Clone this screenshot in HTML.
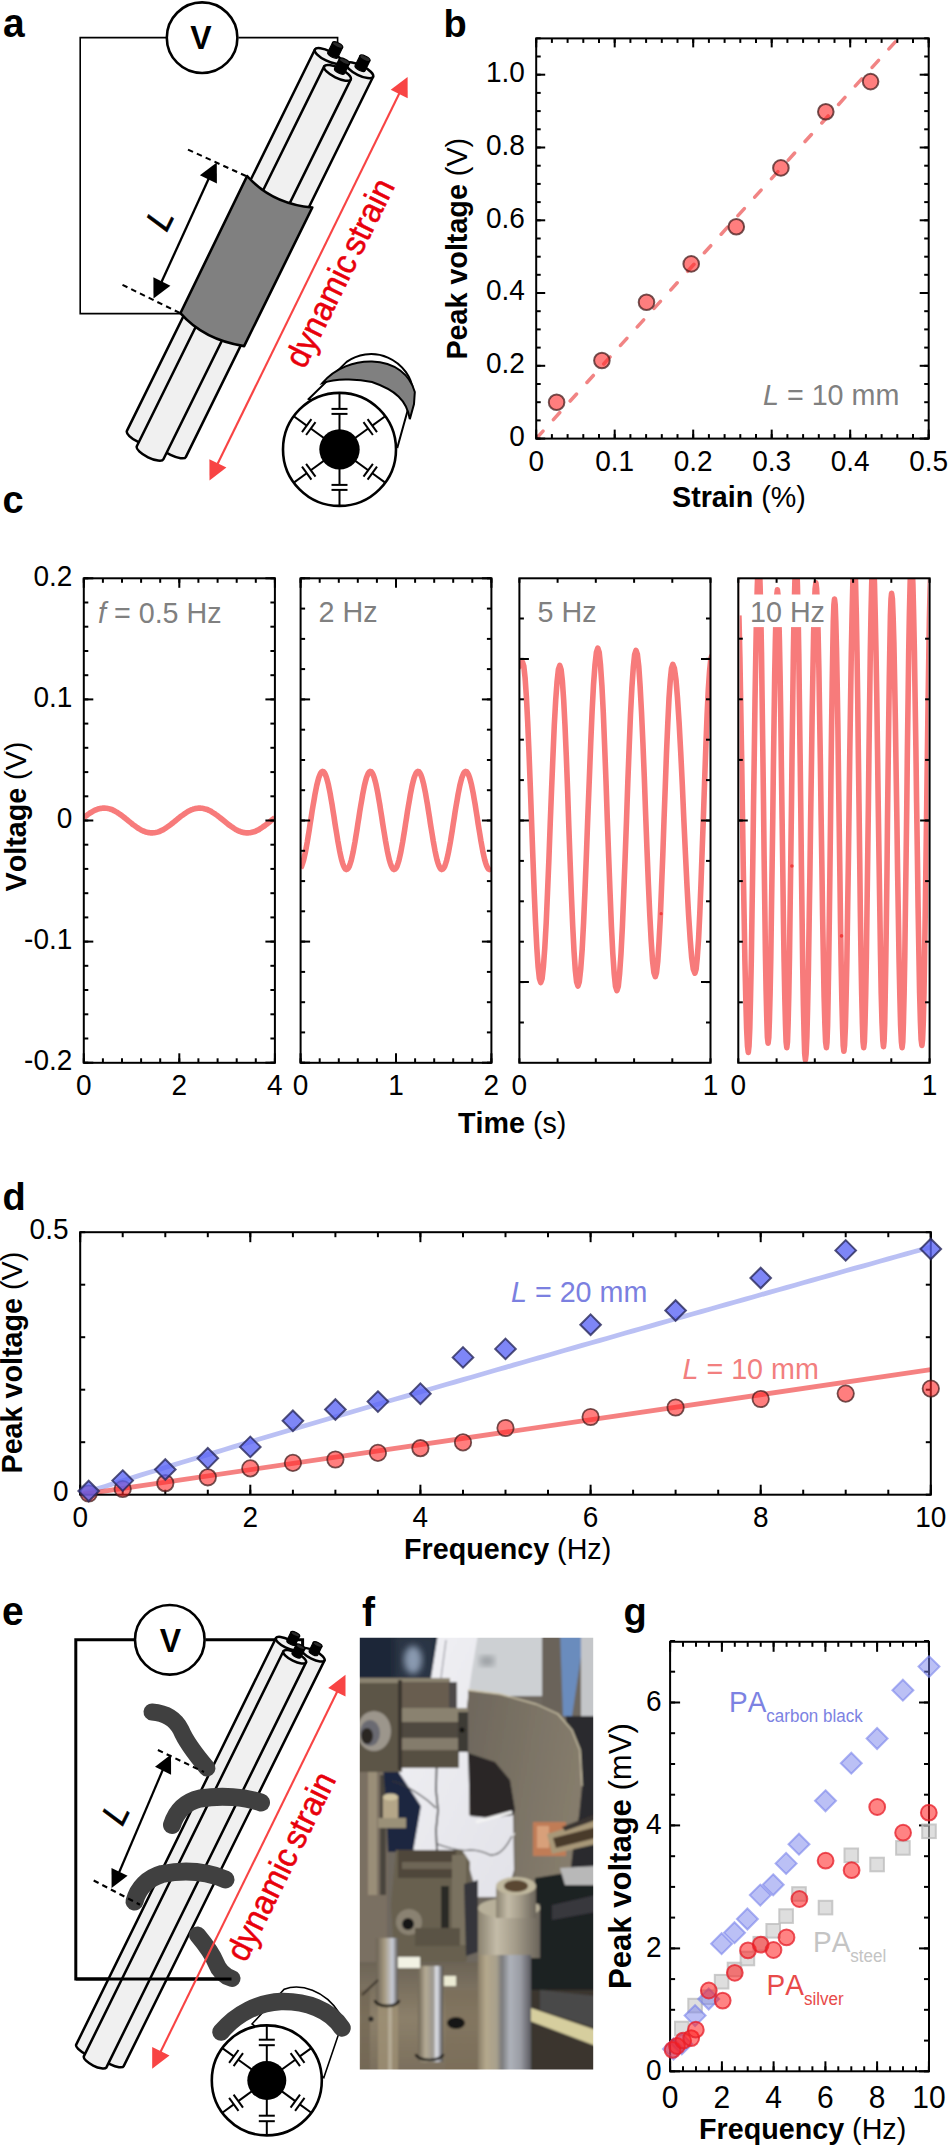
<!DOCTYPE html><html><head><meta charset="utf-8"><style>html,body{margin:0;padding:0;background:#fff;}svg{display:block;}</style></head><body>
<svg width="950" height="2146" viewBox="0 0 950 2146" font-family='"Liberation Sans", sans-serif' style="font-kerning:none">
<rect width="950" height="2146" fill="#fff"/>
<path d="M166.5,37.6 H80.2 V313.6 H181" fill="none" stroke="#000" stroke-width="1.6"/>
<path d="M238.5,37.6 H337.6 V46" fill="none" stroke="#000" stroke-width="1.6"/>
<path d="M314.9,49.5 L126.9,430.9 A14.8,5.0 26.26 0 0 153.5,443.9 L341.5,62.5 Z" fill="#f0f0f0" stroke="#000" stroke-width="2.5" stroke-linejoin="round"/>
<ellipse cx="328.2" cy="56.0" rx="14.8" ry="5.0" transform="rotate(26.26 328.2 56.0)" fill="#f0f0f0" stroke="#000" stroke-width="2.5"/>
<path d="M346.5,63.8 L159.3,443.9 A14.8,5.0 26.26 0 0 185.9,456.9 L373.1,76.8 Z" fill="#f0f0f0" stroke="#000" stroke-width="2.5" stroke-linejoin="round"/>
<ellipse cx="359.8" cy="70.3" rx="14.8" ry="5.0" transform="rotate(26.26 359.8 70.3)" fill="#f0f0f0" stroke="#000" stroke-width="2.5"/>
<path d="M324.2,66.4 L136.8,446.3 A14.8,5.0 26.26 0 0 163.4,459.3 L350.8,79.4 Z" fill="#f0f0f0" stroke="#000" stroke-width="2.5" stroke-linejoin="round"/>
<ellipse cx="337.5" cy="72.9" rx="14.8" ry="5.0" transform="rotate(26.26 337.5 72.9)" fill="#f0f0f0" stroke="#000" stroke-width="2.5"/>
<path d="M327.7,52.4 A5.6,2.2399999999999998 26.26 0 0 337.8,57.4 L342.6,47.5 L332.6,42.6 Z" fill="#000" stroke="#000" stroke-width="1.2"/>
<ellipse cx="337.6" cy="45.0" rx="5.6" ry="2.2" transform="rotate(26.26 337.6 45.0)" fill="#2a2a2a" stroke="#000" stroke-width="1.2"/>
<path d="M355.0,65.7 A5.6,2.2399999999999998 26.26 0 0 365.1,70.7 L369.9,60.8 L359.9,55.9 Z" fill="#000" stroke="#000" stroke-width="1.2"/>
<ellipse cx="364.9" cy="58.3" rx="5.6" ry="2.2" transform="rotate(26.26 364.9 58.3)" fill="#2a2a2a" stroke="#000" stroke-width="1.2"/>
<path d="M334.5,68.6 A5.6,2.2399999999999998 26.26 0 0 344.5,73.6 L349.4,63.7 L339.3,58.8 Z" fill="#000" stroke="#000" stroke-width="1.2"/>
<ellipse cx="344.4" cy="61.2" rx="5.6" ry="2.2" transform="rotate(26.26 344.4 61.2)" fill="#2a2a2a" stroke="#000" stroke-width="1.2"/>
<path d="M247.1,176 Q272,204 312.3,207.5 L244.1,346.1 Q204,340 180.4,313.2 Z" fill="#808080" stroke="#000" stroke-width="2.6" stroke-linejoin="round"/>
<line x1="188" y1="149.6" x2="247.1" y2="176.5" stroke="#000" stroke-width="2.1" stroke-dasharray="5.5,4.2"/>
<line x1="122.5" y1="284.9" x2="180.4" y2="313.2" stroke="#000" stroke-width="2.1" stroke-dasharray="5.5,4.2"/>
<line x1="209" y1="178" x2="161.5" y2="282" stroke="#000" stroke-width="2.3"/>
<path d="M216.8,162.4 L216.9,183.6 L199.9,175.2 Z" fill="#000"/>
<path d="M153.5,298.5 L153.4,277.3 L170.4,285.7 Z" fill="#000"/>
<text transform="translate(166.5,233) rotate(-63.7) scale(1,1.04)" font-size="34" font-style="italic" stroke="#000" stroke-width="0.6">L</text>
<line x1="400" y1="92" x2="217" y2="465" stroke="#f84444" stroke-width="2.1"/>
<path d="M407.6,77.0 L407.7,98.2 L390.7,89.8 Z" fill="#f84444"/>
<path d="M209.5,480.4 L209.4,459.2 L226.4,467.6 Z" fill="#f84444"/>
<text transform="translate(304.5,370) rotate(-63.7) scale(1,1.04)" font-size="32.5" fill="#e8000b" stroke="#e8000b" stroke-width="0.5">dynamic<tspan dx="-4"> strain</tspan></text>
<circle cx="202.1" cy="37.7" r="35.3" fill="#fff" stroke="#000" stroke-width="2.6"/>
<text transform="translate(201,49.3) scale(1,1.04)" font-size="32" font-weight="bold" text-anchor="middle">V</text>
<path d="M308.7,399 L346.6,361.9 A42.5,42.5 0 0 1 413.2,390.5 L397.5,447 Z" fill="#fff" stroke="#000" stroke-width="2"/>
<path d="M322.5,383 C335,368 355,361 372,361.5 C395,362 410,375 414.8,392 L414,404 L409.8,419.2 C407,400 395,390 372,382 C355,378 335,379 322.5,383 Z" fill="#808080" stroke="#000" stroke-width="2"/>
<circle cx="339.5" cy="449.4" r="56.5" fill="#fff" stroke="#000" stroke-width="2.6"/>
<line x1="339.5" y1="449.4" x2="339.5" y2="413.9" stroke="#000" stroke-width="2"/>
<line x1="339.5" y1="408.9" x2="339.5" y2="392.9" stroke="#000" stroke-width="2"/>
<line x1="347.5" y1="413.9" x2="331.5" y2="413.9" stroke="#000" stroke-width="2"/>
<line x1="347.5" y1="408.9" x2="331.5" y2="408.9" stroke="#000" stroke-width="2"/>
<line x1="339.5" y1="449.4" x2="368.2" y2="428.5" stroke="#000" stroke-width="2"/>
<line x1="372.3" y1="425.6" x2="385.2" y2="416.2" stroke="#000" stroke-width="2"/>
<line x1="372.9" y1="435.0" x2="363.5" y2="422.1" stroke="#000" stroke-width="2"/>
<line x1="377.0" y1="432.1" x2="367.6" y2="419.1" stroke="#000" stroke-width="2"/>
<line x1="339.5" y1="449.4" x2="368.2" y2="470.3" stroke="#000" stroke-width="2"/>
<line x1="372.3" y1="473.2" x2="385.2" y2="482.6" stroke="#000" stroke-width="2"/>
<line x1="363.5" y1="476.7" x2="372.9" y2="463.8" stroke="#000" stroke-width="2"/>
<line x1="367.6" y1="479.7" x2="377.0" y2="466.7" stroke="#000" stroke-width="2"/>
<line x1="339.5" y1="449.4" x2="339.5" y2="484.9" stroke="#000" stroke-width="2"/>
<line x1="339.5" y1="489.9" x2="339.5" y2="505.9" stroke="#000" stroke-width="2"/>
<line x1="331.5" y1="484.9" x2="347.5" y2="484.9" stroke="#000" stroke-width="2"/>
<line x1="331.5" y1="489.9" x2="347.5" y2="489.9" stroke="#000" stroke-width="2"/>
<line x1="339.5" y1="449.4" x2="310.8" y2="470.3" stroke="#000" stroke-width="2"/>
<line x1="306.7" y1="473.2" x2="293.8" y2="482.6" stroke="#000" stroke-width="2"/>
<line x1="306.1" y1="463.8" x2="315.5" y2="476.7" stroke="#000" stroke-width="2"/>
<line x1="302.0" y1="466.7" x2="311.4" y2="479.7" stroke="#000" stroke-width="2"/>
<line x1="339.5" y1="449.4" x2="310.8" y2="428.5" stroke="#000" stroke-width="2"/>
<line x1="306.7" y1="425.6" x2="293.8" y2="416.2" stroke="#000" stroke-width="2"/>
<line x1="315.5" y1="422.1" x2="306.1" y2="435.0" stroke="#000" stroke-width="2"/>
<line x1="311.4" y1="419.1" x2="302.0" y2="432.1" stroke="#000" stroke-width="2"/>
<circle cx="339.5" cy="449.4" r="20.2" fill="#000"/>
<text transform="translate(3,36.5) scale(1,1.04)" font-size="39" font-weight="bold">a</text>
<clipPath id="cb"><rect x="536.2" y="38.4" width="392.5" height="400.20000000000005"/></clipPath>
<line x1="536.2" y1="438.6" x2="898.4" y2="38.4" stroke="rgba(236,84,84,0.72)" stroke-width="3.5" stroke-linecap="round" stroke-dasharray="9.5,15.5" stroke-dashoffset="24.35" clip-path="url(#cb)"/>
<circle cx="556.6" cy="402.2" r="7.8" fill="rgba(255,40,40,0.6)" stroke="rgba(70,30,30,0.75)" stroke-width="2"/>
<circle cx="601.9" cy="360.5" r="7.8" fill="rgba(255,40,40,0.6)" stroke="rgba(70,30,30,0.75)" stroke-width="2"/>
<circle cx="646.5" cy="302.2" r="7.8" fill="rgba(255,40,40,0.6)" stroke="rgba(70,30,30,0.75)" stroke-width="2"/>
<circle cx="691.2" cy="263.9" r="7.8" fill="rgba(255,40,40,0.6)" stroke="rgba(70,30,30,0.75)" stroke-width="2"/>
<circle cx="736.3" cy="226.8" r="7.8" fill="rgba(255,40,40,0.6)" stroke="rgba(70,30,30,0.75)" stroke-width="2"/>
<circle cx="780.9" cy="167.9" r="7.8" fill="rgba(255,40,40,0.6)" stroke="rgba(70,30,30,0.75)" stroke-width="2"/>
<circle cx="825.8" cy="111.7" r="7.8" fill="rgba(255,40,40,0.6)" stroke="rgba(70,30,30,0.75)" stroke-width="2"/>
<circle cx="870.6" cy="81.6" r="7.8" fill="rgba(255,40,40,0.6)" stroke="rgba(70,30,30,0.75)" stroke-width="2"/>
<rect x="536.2" y="38.4" width="392.5" height="400.2" fill="none" stroke="#000" stroke-width="2"/>
<line x1="536.2" y1="438.6" x2="536.2" y2="429.6" stroke="#000" stroke-width="2" />
<line x1="536.2" y1="38.4" x2="536.2" y2="47.4" stroke="#000" stroke-width="2" />
<line x1="614.7" y1="438.6" x2="614.7" y2="429.6" stroke="#000" stroke-width="2" />
<line x1="614.7" y1="38.4" x2="614.7" y2="47.4" stroke="#000" stroke-width="2" />
<line x1="693.2" y1="438.6" x2="693.2" y2="429.6" stroke="#000" stroke-width="2" />
<line x1="693.2" y1="38.4" x2="693.2" y2="47.4" stroke="#000" stroke-width="2" />
<line x1="771.7" y1="438.6" x2="771.7" y2="429.6" stroke="#000" stroke-width="2" />
<line x1="771.7" y1="38.4" x2="771.7" y2="47.4" stroke="#000" stroke-width="2" />
<line x1="850.2" y1="438.6" x2="850.2" y2="429.6" stroke="#000" stroke-width="2" />
<line x1="850.2" y1="38.4" x2="850.2" y2="47.4" stroke="#000" stroke-width="2" />
<line x1="928.7" y1="438.6" x2="928.7" y2="429.6" stroke="#000" stroke-width="2" />
<line x1="928.7" y1="38.4" x2="928.7" y2="47.4" stroke="#000" stroke-width="2" />
<line x1="536.2" y1="438.6" x2="536.2" y2="434.1" stroke="#000" stroke-width="2" />
<line x1="536.2" y1="38.4" x2="536.2" y2="42.9" stroke="#000" stroke-width="2" />
<line x1="551.9" y1="438.6" x2="551.9" y2="434.1" stroke="#000" stroke-width="2" />
<line x1="551.9" y1="38.4" x2="551.9" y2="42.9" stroke="#000" stroke-width="2" />
<line x1="567.6" y1="438.6" x2="567.6" y2="434.1" stroke="#000" stroke-width="2" />
<line x1="567.6" y1="38.4" x2="567.6" y2="42.9" stroke="#000" stroke-width="2" />
<line x1="583.3" y1="438.6" x2="583.3" y2="434.1" stroke="#000" stroke-width="2" />
<line x1="583.3" y1="38.4" x2="583.3" y2="42.9" stroke="#000" stroke-width="2" />
<line x1="599" y1="438.6" x2="599" y2="434.1" stroke="#000" stroke-width="2" />
<line x1="599" y1="38.4" x2="599" y2="42.9" stroke="#000" stroke-width="2" />
<line x1="614.7" y1="438.6" x2="614.7" y2="434.1" stroke="#000" stroke-width="2" />
<line x1="614.7" y1="38.4" x2="614.7" y2="42.9" stroke="#000" stroke-width="2" />
<line x1="630.4" y1="438.6" x2="630.4" y2="434.1" stroke="#000" stroke-width="2" />
<line x1="630.4" y1="38.4" x2="630.4" y2="42.9" stroke="#000" stroke-width="2" />
<line x1="646.1" y1="438.6" x2="646.1" y2="434.1" stroke="#000" stroke-width="2" />
<line x1="646.1" y1="38.4" x2="646.1" y2="42.9" stroke="#000" stroke-width="2" />
<line x1="661.8" y1="438.6" x2="661.8" y2="434.1" stroke="#000" stroke-width="2" />
<line x1="661.8" y1="38.4" x2="661.8" y2="42.9" stroke="#000" stroke-width="2" />
<line x1="677.5" y1="438.6" x2="677.5" y2="434.1" stroke="#000" stroke-width="2" />
<line x1="677.5" y1="38.4" x2="677.5" y2="42.9" stroke="#000" stroke-width="2" />
<line x1="693.2" y1="438.6" x2="693.2" y2="434.1" stroke="#000" stroke-width="2" />
<line x1="693.2" y1="38.4" x2="693.2" y2="42.9" stroke="#000" stroke-width="2" />
<line x1="708.9" y1="438.6" x2="708.9" y2="434.1" stroke="#000" stroke-width="2" />
<line x1="708.9" y1="38.4" x2="708.9" y2="42.9" stroke="#000" stroke-width="2" />
<line x1="724.6" y1="438.6" x2="724.6" y2="434.1" stroke="#000" stroke-width="2" />
<line x1="724.6" y1="38.4" x2="724.6" y2="42.9" stroke="#000" stroke-width="2" />
<line x1="740.3" y1="438.6" x2="740.3" y2="434.1" stroke="#000" stroke-width="2" />
<line x1="740.3" y1="38.4" x2="740.3" y2="42.9" stroke="#000" stroke-width="2" />
<line x1="756" y1="438.6" x2="756" y2="434.1" stroke="#000" stroke-width="2" />
<line x1="756" y1="38.4" x2="756" y2="42.9" stroke="#000" stroke-width="2" />
<line x1="771.7" y1="438.6" x2="771.7" y2="434.1" stroke="#000" stroke-width="2" />
<line x1="771.7" y1="38.4" x2="771.7" y2="42.9" stroke="#000" stroke-width="2" />
<line x1="787.4" y1="438.6" x2="787.4" y2="434.1" stroke="#000" stroke-width="2" />
<line x1="787.4" y1="38.4" x2="787.4" y2="42.9" stroke="#000" stroke-width="2" />
<line x1="803.1" y1="438.6" x2="803.1" y2="434.1" stroke="#000" stroke-width="2" />
<line x1="803.1" y1="38.4" x2="803.1" y2="42.9" stroke="#000" stroke-width="2" />
<line x1="818.8" y1="438.6" x2="818.8" y2="434.1" stroke="#000" stroke-width="2" />
<line x1="818.8" y1="38.4" x2="818.8" y2="42.9" stroke="#000" stroke-width="2" />
<line x1="834.5" y1="438.6" x2="834.5" y2="434.1" stroke="#000" stroke-width="2" />
<line x1="834.5" y1="38.4" x2="834.5" y2="42.9" stroke="#000" stroke-width="2" />
<line x1="850.2" y1="438.6" x2="850.2" y2="434.1" stroke="#000" stroke-width="2" />
<line x1="850.2" y1="38.4" x2="850.2" y2="42.9" stroke="#000" stroke-width="2" />
<line x1="865.9" y1="438.6" x2="865.9" y2="434.1" stroke="#000" stroke-width="2" />
<line x1="865.9" y1="38.4" x2="865.9" y2="42.9" stroke="#000" stroke-width="2" />
<line x1="881.6" y1="438.6" x2="881.6" y2="434.1" stroke="#000" stroke-width="2" />
<line x1="881.6" y1="38.4" x2="881.6" y2="42.9" stroke="#000" stroke-width="2" />
<line x1="897.3" y1="438.6" x2="897.3" y2="434.1" stroke="#000" stroke-width="2" />
<line x1="897.3" y1="38.4" x2="897.3" y2="42.9" stroke="#000" stroke-width="2" />
<line x1="913" y1="438.6" x2="913" y2="434.1" stroke="#000" stroke-width="2" />
<line x1="913" y1="38.4" x2="913" y2="42.9" stroke="#000" stroke-width="2" />
<line x1="928.7" y1="438.6" x2="928.7" y2="434.1" stroke="#000" stroke-width="2" />
<line x1="928.7" y1="38.4" x2="928.7" y2="42.9" stroke="#000" stroke-width="2" />
<line x1="536.2" y1="438.6" x2="545.2" y2="438.6" stroke="#000" stroke-width="2" />
<line x1="928.7" y1="438.6" x2="919.7" y2="438.6" stroke="#000" stroke-width="2" />
<line x1="536.2" y1="365.8" x2="545.2" y2="365.8" stroke="#000" stroke-width="2" />
<line x1="928.7" y1="365.8" x2="919.7" y2="365.8" stroke="#000" stroke-width="2" />
<line x1="536.2" y1="293" x2="545.2" y2="293" stroke="#000" stroke-width="2" />
<line x1="928.7" y1="293" x2="919.7" y2="293" stroke="#000" stroke-width="2" />
<line x1="536.2" y1="220.3" x2="545.2" y2="220.3" stroke="#000" stroke-width="2" />
<line x1="928.7" y1="220.3" x2="919.7" y2="220.3" stroke="#000" stroke-width="2" />
<line x1="536.2" y1="147.5" x2="545.2" y2="147.5" stroke="#000" stroke-width="2" />
<line x1="928.7" y1="147.5" x2="919.7" y2="147.5" stroke="#000" stroke-width="2" />
<line x1="536.2" y1="74.7" x2="545.2" y2="74.7" stroke="#000" stroke-width="2" />
<line x1="928.7" y1="74.7" x2="919.7" y2="74.7" stroke="#000" stroke-width="2" />
<line x1="536.2" y1="438.6" x2="540.7" y2="438.6" stroke="#000" stroke-width="2" />
<line x1="928.7" y1="438.6" x2="924.2" y2="438.6" stroke="#000" stroke-width="2" />
<line x1="536.2" y1="420.4" x2="540.7" y2="420.4" stroke="#000" stroke-width="2" />
<line x1="928.7" y1="420.4" x2="924.2" y2="420.4" stroke="#000" stroke-width="2" />
<line x1="536.2" y1="402.2" x2="540.7" y2="402.2" stroke="#000" stroke-width="2" />
<line x1="928.7" y1="402.2" x2="924.2" y2="402.2" stroke="#000" stroke-width="2" />
<line x1="536.2" y1="384" x2="540.7" y2="384" stroke="#000" stroke-width="2" />
<line x1="928.7" y1="384" x2="924.2" y2="384" stroke="#000" stroke-width="2" />
<line x1="536.2" y1="365.8" x2="540.7" y2="365.8" stroke="#000" stroke-width="2" />
<line x1="928.7" y1="365.8" x2="924.2" y2="365.8" stroke="#000" stroke-width="2" />
<line x1="536.2" y1="347.6" x2="540.7" y2="347.6" stroke="#000" stroke-width="2" />
<line x1="928.7" y1="347.6" x2="924.2" y2="347.6" stroke="#000" stroke-width="2" />
<line x1="536.2" y1="329.4" x2="540.7" y2="329.4" stroke="#000" stroke-width="2" />
<line x1="928.7" y1="329.4" x2="924.2" y2="329.4" stroke="#000" stroke-width="2" />
<line x1="536.2" y1="311.2" x2="540.7" y2="311.2" stroke="#000" stroke-width="2" />
<line x1="928.7" y1="311.2" x2="924.2" y2="311.2" stroke="#000" stroke-width="2" />
<line x1="536.2" y1="293" x2="540.7" y2="293" stroke="#000" stroke-width="2" />
<line x1="928.7" y1="293" x2="924.2" y2="293" stroke="#000" stroke-width="2" />
<line x1="536.2" y1="274.8" x2="540.7" y2="274.8" stroke="#000" stroke-width="2" />
<line x1="928.7" y1="274.8" x2="924.2" y2="274.8" stroke="#000" stroke-width="2" />
<line x1="536.2" y1="256.7" x2="540.7" y2="256.7" stroke="#000" stroke-width="2" />
<line x1="928.7" y1="256.7" x2="924.2" y2="256.7" stroke="#000" stroke-width="2" />
<line x1="536.2" y1="238.5" x2="540.7" y2="238.5" stroke="#000" stroke-width="2" />
<line x1="928.7" y1="238.5" x2="924.2" y2="238.5" stroke="#000" stroke-width="2" />
<line x1="536.2" y1="220.3" x2="540.7" y2="220.3" stroke="#000" stroke-width="2" />
<line x1="928.7" y1="220.3" x2="924.2" y2="220.3" stroke="#000" stroke-width="2" />
<line x1="536.2" y1="202.1" x2="540.7" y2="202.1" stroke="#000" stroke-width="2" />
<line x1="928.7" y1="202.1" x2="924.2" y2="202.1" stroke="#000" stroke-width="2" />
<line x1="536.2" y1="183.9" x2="540.7" y2="183.9" stroke="#000" stroke-width="2" />
<line x1="928.7" y1="183.9" x2="924.2" y2="183.9" stroke="#000" stroke-width="2" />
<line x1="536.2" y1="165.7" x2="540.7" y2="165.7" stroke="#000" stroke-width="2" />
<line x1="928.7" y1="165.7" x2="924.2" y2="165.7" stroke="#000" stroke-width="2" />
<line x1="536.2" y1="147.5" x2="540.7" y2="147.5" stroke="#000" stroke-width="2" />
<line x1="928.7" y1="147.5" x2="924.2" y2="147.5" stroke="#000" stroke-width="2" />
<line x1="536.2" y1="129.3" x2="540.7" y2="129.3" stroke="#000" stroke-width="2" />
<line x1="928.7" y1="129.3" x2="924.2" y2="129.3" stroke="#000" stroke-width="2" />
<line x1="536.2" y1="111.1" x2="540.7" y2="111.1" stroke="#000" stroke-width="2" />
<line x1="928.7" y1="111.1" x2="924.2" y2="111.1" stroke="#000" stroke-width="2" />
<line x1="536.2" y1="92.9" x2="540.7" y2="92.9" stroke="#000" stroke-width="2" />
<line x1="928.7" y1="92.9" x2="924.2" y2="92.9" stroke="#000" stroke-width="2" />
<line x1="536.2" y1="74.7" x2="540.7" y2="74.7" stroke="#000" stroke-width="2" />
<line x1="928.7" y1="74.7" x2="924.2" y2="74.7" stroke="#000" stroke-width="2" />
<line x1="536.2" y1="56.5" x2="540.7" y2="56.5" stroke="#000" stroke-width="2" />
<line x1="928.7" y1="56.5" x2="924.2" y2="56.5" stroke="#000" stroke-width="2" />
<line x1="536.2" y1="38.3" x2="540.7" y2="38.3" stroke="#000" stroke-width="2" />
<line x1="928.7" y1="38.3" x2="924.2" y2="38.3" stroke="#000" stroke-width="2" />
<text transform="translate(536.2,471.3) scale(1,1.04)" font-size="28" text-anchor="middle" font-weight="normal" fill="#000" >0</text>
<text transform="translate(614.7,471.3) scale(1,1.04)" font-size="28" text-anchor="middle" font-weight="normal" fill="#000" >0.1</text>
<text transform="translate(693.2,471.3) scale(1,1.04)" font-size="28" text-anchor="middle" font-weight="normal" fill="#000" >0.2</text>
<text transform="translate(771.7,471.3) scale(1,1.04)" font-size="28" text-anchor="middle" font-weight="normal" fill="#000" >0.3</text>
<text transform="translate(850.2,471.3) scale(1,1.04)" font-size="28" text-anchor="middle" font-weight="normal" fill="#000" >0.4</text>
<text transform="translate(928.7,471.3) scale(1,1.04)" font-size="28" text-anchor="middle" font-weight="normal" fill="#000" >0.5</text>
<text transform="translate(524.8,445.9) scale(1,1.04)" font-size="28" text-anchor="end" font-weight="normal" fill="#000" >0</text>
<text transform="translate(524.8,373.1) scale(1,1.04)" font-size="28" text-anchor="end" font-weight="normal" fill="#000" >0.2</text>
<text transform="translate(524.8,300.3) scale(1,1.04)" font-size="28" text-anchor="end" font-weight="normal" fill="#000" >0.4</text>
<text transform="translate(524.8,227.6) scale(1,1.04)" font-size="28" text-anchor="end" font-weight="normal" fill="#000" >0.6</text>
<text transform="translate(524.8,154.8) scale(1,1.04)" font-size="28" text-anchor="end" font-weight="normal" fill="#000" >0.8</text>
<text transform="translate(524.8,82) scale(1,1.04)" font-size="28" text-anchor="end" font-weight="normal" fill="#000" >1.0</text>
<text transform="translate(672,506.5) scale(1.025,1.04)" font-size="28"><tspan font-weight="bold">Strain</tspan> (%)</text>
<text transform="translate(467,359.6) rotate(-90) scale(1.025,1.04)" font-size="28"><tspan font-weight="bold">Peak voltage</tspan> (V)</text>
<text transform="translate(763,405) scale(1.025,1.04)" font-size="28" fill="#808080"><tspan font-style="italic">L</tspan> = 10 mm</text>
<text transform="translate(443.5,36.5) scale(1,1.04)" font-size="38" text-anchor="start" font-weight="bold" fill="#000" >b</text>
<clipPath id="cc0"><rect x="83.8" y="578.3" width="191.1" height="484.5"/></clipPath>
<clipPath id="cc1"><rect x="300.6" y="578.3" width="190.8" height="484.5"/></clipPath>
<clipPath id="cc2"><rect x="519.4" y="578.3" width="191.1" height="484.5"/></clipPath>
<clipPath id="cc3"><rect x="738.3" y="578.3" width="191.3" height="484.5"/></clipPath>
<path d="M83.8,817.6 L84.8,816.9 L85.7,816.1 L86.7,815.4 L87.6,814.7 L88.6,814.0 L89.5,813.4 L90.5,812.7 L91.4,812.2 L92.4,811.6 L93.4,811.1 L94.3,810.6 L95.3,810.1 L96.2,809.7 L97.2,809.4 L98.1,809.0 L99.1,808.8 L100.0,808.5 L101.0,808.4 L102.0,808.2 L102.9,808.1 L103.9,808.1 L104.8,808.1 L105.8,808.2 L106.7,808.3 L107.7,808.4 L108.6,808.6 L109.6,808.9 L110.6,809.2 L111.5,809.5 L112.5,809.9 L113.4,810.4 L114.4,810.8 L115.3,811.3 L116.3,811.9 L117.2,812.4 L118.2,813.1 L119.2,813.7 L120.1,814.4 L121.1,815.0 L122.0,815.8 L123.0,816.5 L123.9,817.2 L124.9,818.0 L125.8,818.8 L126.8,819.5 L127.8,820.3 L128.7,821.1 L129.7,821.9 L130.6,822.6 L131.6,823.4 L132.5,824.2 L133.5,824.9 L134.4,825.6 L135.4,826.3 L136.4,827.0 L137.3,827.6 L138.3,828.3 L139.2,828.8 L140.2,829.4 L141.1,829.9 L142.1,830.4 L143.0,830.9 L144.0,831.3 L145.0,831.6 L145.9,832.0 L146.9,832.2 L147.8,832.5 L148.8,832.6 L149.7,832.8 L150.7,832.9 L151.6,832.9 L152.6,832.9 L153.6,832.8 L154.5,832.7 L155.5,832.6 L156.4,832.4 L157.4,832.1 L158.3,831.8 L159.3,831.5 L160.2,831.1 L161.2,830.6 L162.2,830.2 L163.1,829.7 L164.1,829.1 L165.0,828.5 L166.0,827.9 L166.9,827.3 L167.9,826.6 L168.8,825.9 L169.8,825.2 L170.8,824.5 L171.7,823.8 L172.7,823.0 L173.6,822.2 L174.6,821.5 L175.5,820.7 L176.5,819.9 L177.4,819.1 L178.4,818.4 L179.3,817.6 L180.3,816.8 L181.3,816.1 L182.2,815.4 L183.2,814.7 L184.1,814.0 L185.1,813.4 L186.0,812.7 L187.0,812.1 L187.9,811.6 L188.9,811.1 L189.9,810.6 L190.8,810.1 L191.8,809.7 L192.7,809.4 L193.7,809.0 L194.6,808.8 L195.6,808.5 L196.5,808.4 L197.5,808.2 L198.5,808.1 L199.4,808.1 L200.4,808.1 L201.3,808.2 L202.3,808.3 L203.2,808.4 L204.2,808.7 L205.1,808.9 L206.1,809.2 L207.1,809.5 L208.0,809.9 L209.0,810.4 L209.9,810.8 L210.9,811.3 L211.8,811.9 L212.8,812.5 L213.7,813.1 L214.7,813.7 L215.7,814.4 L216.6,815.1 L217.6,815.8 L218.5,816.5 L219.5,817.2 L220.4,818.0 L221.4,818.8 L222.3,819.5 L223.3,820.3 L224.3,821.1 L225.2,821.9 L226.2,822.6 L227.1,823.4 L228.1,824.2 L229.0,824.9 L230.0,825.6 L230.9,826.3 L231.9,827.0 L232.9,827.6 L233.8,828.3 L234.8,828.9 L235.7,829.4 L236.7,829.9 L237.6,830.4 L238.6,830.9 L239.5,831.3 L240.5,831.6 L241.5,832.0 L242.4,832.2 L243.4,832.5 L244.3,832.6 L245.3,832.8 L246.2,832.9 L247.2,832.9 L248.1,832.9 L249.1,832.8 L250.1,832.7 L251.0,832.6 L252.0,832.3 L252.9,832.1 L253.9,831.8 L254.8,831.5 L255.8,831.1 L256.7,830.6 L257.7,830.2 L258.7,829.7 L259.6,829.1 L260.6,828.5 L261.5,827.9 L262.5,827.3 L263.4,826.6 L264.4,825.9 L265.3,825.2 L266.3,824.5 L267.3,823.8 L268.2,823.0 L269.2,822.2 L270.1,821.5 L271.1,820.7 L272.0,819.9 L273.0,819.1 L273.9,818.4 L274.9,817.6" fill="none" stroke="#f77b7b" stroke-width="5.6" clip-path="url(#cc0)"/>
<path d="M300.6,868.1 L301.6,866.3 L302.5,863.7 L303.5,860.5 L304.4,856.6 L305.4,852.2 L306.3,847.3 L307.3,841.9 L308.2,836.2 L309.2,830.3 L310.1,824.2 L311.1,818.0 L312.0,811.9 L313.0,805.9 L314.0,800.2 L314.9,794.8 L315.9,789.7 L316.8,785.2 L317.8,781.2 L318.7,777.9 L319.7,775.2 L320.6,773.2 L321.6,772.0 L322.5,771.5 L323.5,771.8 L324.5,772.9 L325.4,774.7 L326.4,777.3 L327.3,780.5 L328.3,784.4 L329.2,788.8 L330.2,793.7 L331.1,799.1 L332.1,804.8 L333.0,810.7 L334.0,816.8 L334.9,823.0 L335.9,829.1 L336.9,835.1 L337.8,840.8 L338.8,846.2 L339.7,851.3 L340.7,855.8 L341.6,859.8 L342.6,863.1 L343.5,865.8 L344.5,867.8 L345.4,869.0 L346.4,869.5 L347.3,869.2 L348.3,868.1 L349.3,866.3 L350.2,863.7 L351.2,860.5 L352.1,856.6 L353.1,852.2 L354.0,847.3 L355.0,841.9 L355.9,836.2 L356.9,830.3 L357.8,824.2 L358.8,818.0 L359.7,811.9 L360.7,805.9 L361.7,800.2 L362.6,794.8 L363.6,789.7 L364.5,785.2 L365.5,781.2 L366.4,777.9 L367.4,775.2 L368.3,773.2 L369.3,772.0 L370.2,771.5 L371.2,771.8 L372.1,772.9 L373.1,774.7 L374.1,777.3 L375.0,780.5 L376.0,784.4 L376.9,788.8 L377.9,793.7 L378.8,799.1 L379.8,804.8 L380.7,810.7 L381.7,816.8 L382.6,823.0 L383.6,829.1 L384.6,835.1 L385.5,840.8 L386.5,846.2 L387.4,851.3 L388.4,855.8 L389.3,859.8 L390.3,863.1 L391.2,865.8 L392.2,867.8 L393.1,869.0 L394.1,869.5 L395.0,869.2 L396.0,868.1 L397.0,866.3 L397.9,863.7 L398.9,860.5 L399.8,856.6 L400.8,852.2 L401.7,847.3 L402.7,841.9 L403.6,836.2 L404.6,830.3 L405.5,824.2 L406.5,818.0 L407.4,811.9 L408.4,805.9 L409.4,800.2 L410.3,794.8 L411.3,789.7 L412.2,785.2 L413.2,781.2 L414.1,777.9 L415.1,775.2 L416.0,773.2 L417.0,772.0 L417.9,771.5 L418.9,771.8 L419.8,772.9 L420.8,774.7 L421.8,777.3 L422.7,780.5 L423.7,784.4 L424.6,788.8 L425.6,793.7 L426.5,799.1 L427.5,804.8 L428.4,810.7 L429.4,816.8 L430.3,823.0 L431.3,829.1 L432.3,835.1 L433.2,840.8 L434.2,846.2 L435.1,851.3 L436.1,855.8 L437.0,859.8 L438.0,863.1 L438.9,865.8 L439.9,867.8 L440.8,869.0 L441.8,869.5 L442.7,869.2 L443.7,868.1 L444.7,866.3 L445.6,863.7 L446.6,860.5 L447.5,856.6 L448.5,852.2 L449.4,847.3 L450.4,841.9 L451.3,836.2 L452.3,830.3 L453.2,824.2 L454.2,818.0 L455.1,811.9 L456.1,805.9 L457.1,800.2 L458.0,794.8 L459.0,789.7 L459.9,785.2 L460.9,781.2 L461.8,777.9 L462.8,775.2 L463.7,773.2 L464.7,772.0 L465.6,771.5 L466.6,771.8 L467.5,772.9 L468.5,774.7 L469.5,777.3 L470.4,780.5 L471.4,784.4 L472.3,788.8 L473.3,793.7 L474.2,799.1 L475.2,804.8 L476.1,810.7 L477.1,816.8 L478.0,823.0 L479.0,829.1 L480.0,835.1 L480.9,840.8 L481.9,846.2 L482.8,851.3 L483.8,855.8 L484.7,859.8 L485.7,863.1 L486.6,865.8 L487.6,867.8 L488.5,869.0 L489.5,869.5 L490.4,869.2 L491.4,868.1" fill="none" stroke="#f77b7b" stroke-width="5.6" clip-path="url(#cc1)"/>
<path d="M517.0,668.0 L517.4,667.9 L517.8,667.7 L518.2,667.4 L518.6,666.9 L519.0,666.3 L519.4,665.7 L519.8,665.1 L520.1,664.4 L520.5,663.8 L520.9,663.2 L521.3,662.7 L521.7,662.4 L522.1,662.2 L522.5,662.1 L523.8,666.1 L525.1,678.0 L526.4,697.1 L527.7,722.4 L529.0,752.8 L530.3,786.7 L531.6,822.3 L532.9,857.9 L534.2,891.8 L535.5,922.2 L536.8,947.5 L538.1,966.6 L539.4,978.5 L540.7,982.5 L542.1,978.5 L543.4,966.8 L544.8,947.9 L546.2,922.8 L547.5,892.8 L548.9,859.3 L550.2,824.0 L551.6,788.7 L553.0,755.2 L554.3,725.2 L555.7,700.1 L557.1,681.2 L558.4,669.5 L559.8,665.5 L561.1,669.5 L562.4,681.4 L563.7,700.5 L565.0,725.8 L566.3,756.2 L567.6,790.1 L568.8,825.8 L570.1,861.4 L571.4,895.3 L572.7,925.7 L574.0,951.0 L575.3,970.1 L576.6,982.0 L577.9,986.0 L579.3,981.8 L580.7,969.3 L582.2,949.1 L583.6,922.4 L585.0,890.4 L586.4,854.6 L587.8,817.1 L589.3,779.5 L590.7,743.7 L592.1,711.7 L593.5,685.0 L595.0,664.8 L596.4,652.3 L597.8,648.1 L599.2,652.4 L600.5,665.1 L601.9,685.5 L603.3,712.6 L604.6,745.1 L606.0,781.3 L607.3,819.4 L608.7,857.5 L610.1,893.7 L611.4,926.2 L612.8,953.3 L614.2,973.7 L615.5,986.4 L616.9,990.7 L618.3,986.4 L619.6,973.8 L621.0,953.6 L622.4,926.6 L623.7,894.4 L625.1,858.4 L626.5,820.6 L627.8,782.7 L629.2,746.7 L630.5,714.5 L631.9,687.5 L633.3,667.3 L634.6,654.7 L636.0,650.4 L637.4,654.5 L638.8,666.6 L640.1,686.0 L641.5,711.8 L642.9,742.7 L644.3,777.2 L645.6,813.5 L647.0,849.8 L648.4,884.3 L649.8,915.2 L651.2,941.0 L652.5,960.4 L653.9,972.5 L655.3,976.6 L656.5,972.7 L657.8,961.1 L659.0,942.5 L660.3,917.8 L661.5,888.2 L662.8,855.2 L664.0,820.5 L665.3,785.8 L666.5,752.8 L667.8,723.2 L669.0,698.5 L670.3,679.9 L671.5,668.3 L672.8,664.4 L674.4,668.3 L676.0,679.7 L677.5,698.1 L679.1,722.5 L680.7,751.8 L682.3,784.4 L683.8,818.8 L685.4,853.2 L687.0,885.8 L688.6,915.1 L690.2,939.5 L691.7,957.9 L693.3,969.3 L694.9,973.2 L696.1,969.2 L697.3,957.4 L698.6,938.5 L699.8,913.3 L701.0,883.1 L702.2,849.5 L703.5,814.1 L704.7,778.7 L705.9,745.1 L707.1,714.9 L708.3,689.7 L709.6,670.8 L710.8,659.0 L712.0,655.0" fill="none" stroke="#f77b7b" stroke-width="5.6" stroke-linejoin="round" clip-path="url(#cc2)"/>
<clipPath id="cc3b"><rect x="739.6" y="578.3" width="188.8" height="484.5"/></clipPath>
<path d="M736.5,566.0 L737.3,572.1 L738.2,590.1 L739.0,619.1 L739.9,657.6 L740.7,703.7 L741.6,755.1 L742.4,809.2 L743.2,863.3 L744.1,914.7 L744.9,960.8 L745.8,999.3 L746.6,1028.3 L747.5,1046.3 L748.3,1052.4 L749.0,1046.3 L749.8,1028.1 L750.5,998.9 L751.3,960.1 L752.0,913.6 L752.8,861.8 L753.5,807.2 L754.3,752.6 L755.0,700.8 L755.8,654.3 L756.5,615.5 L757.3,586.3 L758.0,568.1 L758.8,562.0 L759.5,568.0 L760.1,585.8 L760.8,614.5 L761.5,652.6 L762.1,698.2 L762.8,749.0 L763.5,802.5 L764.1,856.1 L764.8,906.9 L765.4,952.5 L766.1,990.6 L766.8,1019.3 L767.4,1037.1 L768.1,1043.1 L768.8,1037.4 L769.4,1020.7 L770.1,993.7 L770.8,957.8 L771.4,914.8 L772.1,866.9 L772.8,816.4 L773.4,766.0 L774.1,718.1 L774.7,675.1 L775.4,639.2 L776.1,612.2 L776.7,595.5 L777.4,589.8 L778.1,595.5 L778.7,612.5 L779.4,639.7 L780.1,676.0 L780.8,719.4 L781.4,767.8 L782.1,818.8 L782.8,869.7 L783.4,918.1 L784.1,961.5 L784.8,997.8 L785.5,1025.0 L786.1,1042.0 L786.8,1047.7 L787.5,1041.6 L788.1,1023.6 L788.8,994.5 L789.5,955.9 L790.1,909.7 L790.8,858.1 L791.5,803.9 L792.1,749.6 L792.8,698.0 L793.4,651.8 L794.1,613.2 L794.8,584.1 L795.4,566.1 L796.1,560.0 L796.8,566.3 L797.4,584.8 L798.1,614.5 L798.8,654.1 L799.4,701.5 L800.1,754.4 L800.8,810.0 L801.4,865.6 L802.1,918.5 L802.7,965.9 L803.4,1005.5 L804.1,1035.2 L804.7,1053.7 L805.4,1060.0 L806.1,1054.0 L806.9,1036.4 L807.6,1007.9 L808.4,970.2 L809.1,924.9 L809.9,874.5 L810.6,821.4 L811.4,768.3 L812.1,717.9 L812.9,672.6 L813.6,634.9 L814.4,606.4 L815.1,588.8 L815.9,582.8 L816.6,588.6 L817.4,605.8 L818.1,633.5 L818.9,670.3 L819.6,714.4 L820.4,763.5 L821.1,815.2 L821.9,867.0 L822.6,916.1 L823.4,960.2 L824.1,997.0 L824.9,1024.7 L825.6,1041.9 L826.4,1047.7 L827.0,1042.1 L827.6,1025.5 L828.1,998.8 L828.7,963.2 L829.3,920.7 L829.9,873.3 L830.5,823.4 L831.0,773.5 L831.6,726.1 L832.2,683.6 L832.8,648.0 L833.3,621.3 L833.9,604.7 L834.5,599.1 L835.2,604.8 L835.8,621.5 L836.5,648.4 L837.2,684.2 L837.9,727.1 L838.5,774.9 L839.2,825.2 L839.9,875.5 L840.5,923.3 L841.2,966.2 L841.9,1002.0 L842.6,1028.9 L843.2,1045.6 L843.9,1051.3 L844.6,1045.1 L845.4,1027.0 L846.1,997.7 L846.9,958.8 L847.6,912.2 L848.4,860.3 L849.1,805.6 L849.8,751.0 L850.6,699.1 L851.3,652.5 L852.1,613.6 L852.8,584.3 L853.6,566.2 L854.3,560.0 L855.0,566.1 L855.6,584.1 L856.3,613.2 L857.0,651.8 L857.7,698.0 L858.3,749.6 L859.0,803.9 L859.7,858.1 L860.3,909.7 L861.0,955.9 L861.7,994.5 L862.4,1023.6 L863.0,1041.6 L863.7,1047.7 L864.4,1041.6 L865.0,1023.6 L865.7,994.5 L866.4,955.9 L867.0,909.7 L867.7,858.1 L868.4,803.9 L869.0,749.6 L869.7,698.0 L870.3,651.8 L871.0,613.2 L871.7,584.1 L872.3,566.1 L873.0,560.0 L873.8,566.1 L874.5,584.1 L875.2,613.1 L876.0,651.6 L876.8,697.7 L877.5,749.2 L878.2,803.3 L879.0,857.4 L879.8,908.9 L880.5,955.0 L881.2,993.5 L882.0,1022.5 L882.8,1040.5 L883.5,1046.6 L884.1,1040.9 L884.7,1024.2 L885.2,997.2 L885.8,961.3 L886.4,918.3 L887.0,870.4 L887.5,819.9 L888.1,769.5 L888.7,721.6 L889.3,678.6 L889.9,642.7 L890.4,615.7 L891.0,599.0 L891.6,593.3 L892.4,599.0 L893.1,615.8 L893.9,642.9 L894.6,678.8 L895.4,721.9 L896.1,769.9 L896.9,820.5 L897.6,871.1 L898.4,919.1 L899.1,962.2 L899.9,998.1 L900.6,1025.2 L901.4,1042.0 L902.1,1047.7 L902.8,1041.6 L903.4,1023.6 L904.1,994.5 L904.8,955.9 L905.4,909.7 L906.1,858.1 L906.8,803.9 L907.4,749.6 L908.1,698.0 L908.7,651.8 L909.4,613.2 L910.1,584.1 L910.7,566.1 L911.4,560.0 L912.1,566.1 L912.9,584.0 L913.6,612.9 L914.4,651.4 L915.1,697.4 L915.9,748.7 L916.6,802.7 L917.4,856.7 L918.1,908.0 L918.9,954.0 L919.6,992.5 L920.4,1021.4 L921.1,1039.3 L921.9,1045.4 L922.6,1039.4 L923.3,1021.7 L924.0,993.1 L924.6,955.2 L925.3,909.7 L926.0,859.0 L926.7,805.7 L927.4,752.4 L928.1,701.7 L928.8,656.2 L929.4,618.3 L930.1,589.7 L930.8,572.0 L931.5,566.0" fill="none" stroke="#f77b7b" stroke-width="5.6" stroke-linejoin="round" clip-path="url(#cc3b)"/>
<rect x="748.3" y="594.5" width="74.6" height="32.6" fill="#fff"/>
<rect x="739.4" y="579.4" width="4.8" height="36" fill="#fff"/>
<circle cx="661.1" cy="913.7" r="1.6" fill="#f03c3c"/>
<circle cx="791.9" cy="866" r="1.8" fill="#f03c3c"/>
<circle cx="841.5" cy="935.9" r="1.8" fill="#f03c3c"/>
<rect x="83.8" y="578.3" width="191.1" height="484.5" fill="none" stroke="#000" stroke-width="2"/>
<line x1="83.8" y1="1062.8" x2="83.8" y2="1053.3" stroke="#000" stroke-width="2" />
<line x1="83.8" y1="578.3" x2="83.8" y2="587.8" stroke="#000" stroke-width="2" />
<line x1="179.3" y1="1062.8" x2="179.3" y2="1053.3" stroke="#000" stroke-width="2" />
<line x1="179.3" y1="578.3" x2="179.3" y2="587.8" stroke="#000" stroke-width="2" />
<line x1="274.9" y1="1062.8" x2="274.9" y2="1053.3" stroke="#000" stroke-width="2" />
<line x1="274.9" y1="578.3" x2="274.9" y2="587.8" stroke="#000" stroke-width="2" />
<line x1="83.8" y1="1062.8" x2="83.8" y2="1058.3" stroke="#000" stroke-width="2" />
<line x1="83.8" y1="578.3" x2="83.8" y2="582.8" stroke="#000" stroke-width="2" />
<line x1="102.9" y1="1062.8" x2="102.9" y2="1058.3" stroke="#000" stroke-width="2" />
<line x1="102.9" y1="578.3" x2="102.9" y2="582.8" stroke="#000" stroke-width="2" />
<line x1="122" y1="1062.8" x2="122" y2="1058.3" stroke="#000" stroke-width="2" />
<line x1="122" y1="578.3" x2="122" y2="582.8" stroke="#000" stroke-width="2" />
<line x1="141.1" y1="1062.8" x2="141.1" y2="1058.3" stroke="#000" stroke-width="2" />
<line x1="141.1" y1="578.3" x2="141.1" y2="582.8" stroke="#000" stroke-width="2" />
<line x1="160.2" y1="1062.8" x2="160.2" y2="1058.3" stroke="#000" stroke-width="2" />
<line x1="160.2" y1="578.3" x2="160.2" y2="582.8" stroke="#000" stroke-width="2" />
<line x1="179.3" y1="1062.8" x2="179.3" y2="1058.3" stroke="#000" stroke-width="2" />
<line x1="179.3" y1="578.3" x2="179.3" y2="582.8" stroke="#000" stroke-width="2" />
<line x1="198.4" y1="1062.8" x2="198.4" y2="1058.3" stroke="#000" stroke-width="2" />
<line x1="198.4" y1="578.3" x2="198.4" y2="582.8" stroke="#000" stroke-width="2" />
<line x1="217.6" y1="1062.8" x2="217.6" y2="1058.3" stroke="#000" stroke-width="2" />
<line x1="217.6" y1="578.3" x2="217.6" y2="582.8" stroke="#000" stroke-width="2" />
<line x1="236.7" y1="1062.8" x2="236.7" y2="1058.3" stroke="#000" stroke-width="2" />
<line x1="236.7" y1="578.3" x2="236.7" y2="582.8" stroke="#000" stroke-width="2" />
<line x1="255.8" y1="1062.8" x2="255.8" y2="1058.3" stroke="#000" stroke-width="2" />
<line x1="255.8" y1="578.3" x2="255.8" y2="582.8" stroke="#000" stroke-width="2" />
<line x1="274.9" y1="1062.8" x2="274.9" y2="1058.3" stroke="#000" stroke-width="2" />
<line x1="274.9" y1="578.3" x2="274.9" y2="582.8" stroke="#000" stroke-width="2" />
<line x1="83.8" y1="1062.7" x2="93.3" y2="1062.7" stroke="#000" stroke-width="2" />
<line x1="274.9" y1="1062.7" x2="265.4" y2="1062.7" stroke="#000" stroke-width="2" />
<line x1="83.8" y1="941.6" x2="93.3" y2="941.6" stroke="#000" stroke-width="2" />
<line x1="274.9" y1="941.6" x2="265.4" y2="941.6" stroke="#000" stroke-width="2" />
<line x1="83.8" y1="820.5" x2="93.3" y2="820.5" stroke="#000" stroke-width="2" />
<line x1="274.9" y1="820.5" x2="265.4" y2="820.5" stroke="#000" stroke-width="2" />
<line x1="83.8" y1="699.4" x2="93.3" y2="699.4" stroke="#000" stroke-width="2" />
<line x1="274.9" y1="699.4" x2="265.4" y2="699.4" stroke="#000" stroke-width="2" />
<line x1="83.8" y1="578.3" x2="93.3" y2="578.3" stroke="#000" stroke-width="2" />
<line x1="274.9" y1="578.3" x2="265.4" y2="578.3" stroke="#000" stroke-width="2" />
<line x1="83.8" y1="1062.7" x2="88.3" y2="1062.7" stroke="#000" stroke-width="2" />
<line x1="274.9" y1="1062.7" x2="270.4" y2="1062.7" stroke="#000" stroke-width="2" />
<line x1="83.8" y1="1038.5" x2="88.3" y2="1038.5" stroke="#000" stroke-width="2" />
<line x1="274.9" y1="1038.5" x2="270.4" y2="1038.5" stroke="#000" stroke-width="2" />
<line x1="83.8" y1="1014.3" x2="88.3" y2="1014.3" stroke="#000" stroke-width="2" />
<line x1="274.9" y1="1014.3" x2="270.4" y2="1014.3" stroke="#000" stroke-width="2" />
<line x1="83.8" y1="990" x2="88.3" y2="990" stroke="#000" stroke-width="2" />
<line x1="274.9" y1="990" x2="270.4" y2="990" stroke="#000" stroke-width="2" />
<line x1="83.8" y1="965.8" x2="88.3" y2="965.8" stroke="#000" stroke-width="2" />
<line x1="274.9" y1="965.8" x2="270.4" y2="965.8" stroke="#000" stroke-width="2" />
<line x1="83.8" y1="941.6" x2="88.3" y2="941.6" stroke="#000" stroke-width="2" />
<line x1="274.9" y1="941.6" x2="270.4" y2="941.6" stroke="#000" stroke-width="2" />
<line x1="83.8" y1="917.4" x2="88.3" y2="917.4" stroke="#000" stroke-width="2" />
<line x1="274.9" y1="917.4" x2="270.4" y2="917.4" stroke="#000" stroke-width="2" />
<line x1="83.8" y1="893.2" x2="88.3" y2="893.2" stroke="#000" stroke-width="2" />
<line x1="274.9" y1="893.2" x2="270.4" y2="893.2" stroke="#000" stroke-width="2" />
<line x1="83.8" y1="868.9" x2="88.3" y2="868.9" stroke="#000" stroke-width="2" />
<line x1="274.9" y1="868.9" x2="270.4" y2="868.9" stroke="#000" stroke-width="2" />
<line x1="83.8" y1="844.7" x2="88.3" y2="844.7" stroke="#000" stroke-width="2" />
<line x1="274.9" y1="844.7" x2="270.4" y2="844.7" stroke="#000" stroke-width="2" />
<line x1="83.8" y1="820.5" x2="88.3" y2="820.5" stroke="#000" stroke-width="2" />
<line x1="274.9" y1="820.5" x2="270.4" y2="820.5" stroke="#000" stroke-width="2" />
<line x1="83.8" y1="796.3" x2="88.3" y2="796.3" stroke="#000" stroke-width="2" />
<line x1="274.9" y1="796.3" x2="270.4" y2="796.3" stroke="#000" stroke-width="2" />
<line x1="83.8" y1="772.1" x2="88.3" y2="772.1" stroke="#000" stroke-width="2" />
<line x1="274.9" y1="772.1" x2="270.4" y2="772.1" stroke="#000" stroke-width="2" />
<line x1="83.8" y1="747.8" x2="88.3" y2="747.8" stroke="#000" stroke-width="2" />
<line x1="274.9" y1="747.8" x2="270.4" y2="747.8" stroke="#000" stroke-width="2" />
<line x1="83.8" y1="723.6" x2="88.3" y2="723.6" stroke="#000" stroke-width="2" />
<line x1="274.9" y1="723.6" x2="270.4" y2="723.6" stroke="#000" stroke-width="2" />
<line x1="83.8" y1="699.4" x2="88.3" y2="699.4" stroke="#000" stroke-width="2" />
<line x1="274.9" y1="699.4" x2="270.4" y2="699.4" stroke="#000" stroke-width="2" />
<line x1="83.8" y1="675.2" x2="88.3" y2="675.2" stroke="#000" stroke-width="2" />
<line x1="274.9" y1="675.2" x2="270.4" y2="675.2" stroke="#000" stroke-width="2" />
<line x1="83.8" y1="651" x2="88.3" y2="651" stroke="#000" stroke-width="2" />
<line x1="274.9" y1="651" x2="270.4" y2="651" stroke="#000" stroke-width="2" />
<line x1="83.8" y1="626.7" x2="88.3" y2="626.7" stroke="#000" stroke-width="2" />
<line x1="274.9" y1="626.7" x2="270.4" y2="626.7" stroke="#000" stroke-width="2" />
<line x1="83.8" y1="602.5" x2="88.3" y2="602.5" stroke="#000" stroke-width="2" />
<line x1="274.9" y1="602.5" x2="270.4" y2="602.5" stroke="#000" stroke-width="2" />
<line x1="83.8" y1="578.3" x2="88.3" y2="578.3" stroke="#000" stroke-width="2" />
<line x1="274.9" y1="578.3" x2="270.4" y2="578.3" stroke="#000" stroke-width="2" />
<rect x="300.6" y="578.3" width="190.8" height="484.5" fill="none" stroke="#000" stroke-width="2"/>
<line x1="300.6" y1="1062.8" x2="300.6" y2="1053.3" stroke="#000" stroke-width="2" />
<line x1="300.6" y1="578.3" x2="300.6" y2="587.8" stroke="#000" stroke-width="2" />
<line x1="396" y1="1062.8" x2="396" y2="1053.3" stroke="#000" stroke-width="2" />
<line x1="396" y1="578.3" x2="396" y2="587.8" stroke="#000" stroke-width="2" />
<line x1="491.4" y1="1062.8" x2="491.4" y2="1053.3" stroke="#000" stroke-width="2" />
<line x1="491.4" y1="578.3" x2="491.4" y2="587.8" stroke="#000" stroke-width="2" />
<line x1="300.6" y1="1062.8" x2="300.6" y2="1058.3" stroke="#000" stroke-width="2" />
<line x1="300.6" y1="578.3" x2="300.6" y2="582.8" stroke="#000" stroke-width="2" />
<line x1="319.7" y1="1062.8" x2="319.7" y2="1058.3" stroke="#000" stroke-width="2" />
<line x1="319.7" y1="578.3" x2="319.7" y2="582.8" stroke="#000" stroke-width="2" />
<line x1="338.8" y1="1062.8" x2="338.8" y2="1058.3" stroke="#000" stroke-width="2" />
<line x1="338.8" y1="578.3" x2="338.8" y2="582.8" stroke="#000" stroke-width="2" />
<line x1="357.8" y1="1062.8" x2="357.8" y2="1058.3" stroke="#000" stroke-width="2" />
<line x1="357.8" y1="578.3" x2="357.8" y2="582.8" stroke="#000" stroke-width="2" />
<line x1="376.9" y1="1062.8" x2="376.9" y2="1058.3" stroke="#000" stroke-width="2" />
<line x1="376.9" y1="578.3" x2="376.9" y2="582.8" stroke="#000" stroke-width="2" />
<line x1="396" y1="1062.8" x2="396" y2="1058.3" stroke="#000" stroke-width="2" />
<line x1="396" y1="578.3" x2="396" y2="582.8" stroke="#000" stroke-width="2" />
<line x1="415.1" y1="1062.8" x2="415.1" y2="1058.3" stroke="#000" stroke-width="2" />
<line x1="415.1" y1="578.3" x2="415.1" y2="582.8" stroke="#000" stroke-width="2" />
<line x1="434.2" y1="1062.8" x2="434.2" y2="1058.3" stroke="#000" stroke-width="2" />
<line x1="434.2" y1="578.3" x2="434.2" y2="582.8" stroke="#000" stroke-width="2" />
<line x1="453.2" y1="1062.8" x2="453.2" y2="1058.3" stroke="#000" stroke-width="2" />
<line x1="453.2" y1="578.3" x2="453.2" y2="582.8" stroke="#000" stroke-width="2" />
<line x1="472.3" y1="1062.8" x2="472.3" y2="1058.3" stroke="#000" stroke-width="2" />
<line x1="472.3" y1="578.3" x2="472.3" y2="582.8" stroke="#000" stroke-width="2" />
<line x1="491.4" y1="1062.8" x2="491.4" y2="1058.3" stroke="#000" stroke-width="2" />
<line x1="491.4" y1="578.3" x2="491.4" y2="582.8" stroke="#000" stroke-width="2" />
<line x1="300.6" y1="1062.7" x2="310.1" y2="1062.7" stroke="#000" stroke-width="2" />
<line x1="491.4" y1="1062.7" x2="481.9" y2="1062.7" stroke="#000" stroke-width="2" />
<line x1="300.6" y1="941.6" x2="310.1" y2="941.6" stroke="#000" stroke-width="2" />
<line x1="491.4" y1="941.6" x2="481.9" y2="941.6" stroke="#000" stroke-width="2" />
<line x1="300.6" y1="820.5" x2="310.1" y2="820.5" stroke="#000" stroke-width="2" />
<line x1="491.4" y1="820.5" x2="481.9" y2="820.5" stroke="#000" stroke-width="2" />
<line x1="300.6" y1="699.4" x2="310.1" y2="699.4" stroke="#000" stroke-width="2" />
<line x1="491.4" y1="699.4" x2="481.9" y2="699.4" stroke="#000" stroke-width="2" />
<line x1="300.6" y1="578.3" x2="310.1" y2="578.3" stroke="#000" stroke-width="2" />
<line x1="491.4" y1="578.3" x2="481.9" y2="578.3" stroke="#000" stroke-width="2" />
<line x1="300.6" y1="1062.7" x2="305.1" y2="1062.7" stroke="#000" stroke-width="2" />
<line x1="491.4" y1="1062.7" x2="486.9" y2="1062.7" stroke="#000" stroke-width="2" />
<line x1="300.6" y1="1032.4" x2="305.1" y2="1032.4" stroke="#000" stroke-width="2" />
<line x1="491.4" y1="1032.4" x2="486.9" y2="1032.4" stroke="#000" stroke-width="2" />
<line x1="300.6" y1="1002.2" x2="305.1" y2="1002.2" stroke="#000" stroke-width="2" />
<line x1="491.4" y1="1002.2" x2="486.9" y2="1002.2" stroke="#000" stroke-width="2" />
<line x1="300.6" y1="971.9" x2="305.1" y2="971.9" stroke="#000" stroke-width="2" />
<line x1="491.4" y1="971.9" x2="486.9" y2="971.9" stroke="#000" stroke-width="2" />
<line x1="300.6" y1="941.6" x2="305.1" y2="941.6" stroke="#000" stroke-width="2" />
<line x1="491.4" y1="941.6" x2="486.9" y2="941.6" stroke="#000" stroke-width="2" />
<line x1="300.6" y1="911.3" x2="305.1" y2="911.3" stroke="#000" stroke-width="2" />
<line x1="491.4" y1="911.3" x2="486.9" y2="911.3" stroke="#000" stroke-width="2" />
<line x1="300.6" y1="881.1" x2="305.1" y2="881.1" stroke="#000" stroke-width="2" />
<line x1="491.4" y1="881.1" x2="486.9" y2="881.1" stroke="#000" stroke-width="2" />
<line x1="300.6" y1="850.8" x2="305.1" y2="850.8" stroke="#000" stroke-width="2" />
<line x1="491.4" y1="850.8" x2="486.9" y2="850.8" stroke="#000" stroke-width="2" />
<line x1="300.6" y1="820.5" x2="305.1" y2="820.5" stroke="#000" stroke-width="2" />
<line x1="491.4" y1="820.5" x2="486.9" y2="820.5" stroke="#000" stroke-width="2" />
<line x1="300.6" y1="790.2" x2="305.1" y2="790.2" stroke="#000" stroke-width="2" />
<line x1="491.4" y1="790.2" x2="486.9" y2="790.2" stroke="#000" stroke-width="2" />
<line x1="300.6" y1="760" x2="305.1" y2="760" stroke="#000" stroke-width="2" />
<line x1="491.4" y1="760" x2="486.9" y2="760" stroke="#000" stroke-width="2" />
<line x1="300.6" y1="729.7" x2="305.1" y2="729.7" stroke="#000" stroke-width="2" />
<line x1="491.4" y1="729.7" x2="486.9" y2="729.7" stroke="#000" stroke-width="2" />
<line x1="300.6" y1="699.4" x2="305.1" y2="699.4" stroke="#000" stroke-width="2" />
<line x1="491.4" y1="699.4" x2="486.9" y2="699.4" stroke="#000" stroke-width="2" />
<line x1="300.6" y1="669.1" x2="305.1" y2="669.1" stroke="#000" stroke-width="2" />
<line x1="491.4" y1="669.1" x2="486.9" y2="669.1" stroke="#000" stroke-width="2" />
<line x1="300.6" y1="638.9" x2="305.1" y2="638.9" stroke="#000" stroke-width="2" />
<line x1="491.4" y1="638.9" x2="486.9" y2="638.9" stroke="#000" stroke-width="2" />
<line x1="300.6" y1="608.6" x2="305.1" y2="608.6" stroke="#000" stroke-width="2" />
<line x1="491.4" y1="608.6" x2="486.9" y2="608.6" stroke="#000" stroke-width="2" />
<line x1="300.6" y1="578.3" x2="305.1" y2="578.3" stroke="#000" stroke-width="2" />
<line x1="491.4" y1="578.3" x2="486.9" y2="578.3" stroke="#000" stroke-width="2" />
<rect x="519.4" y="578.3" width="191.1" height="484.5" fill="none" stroke="#000" stroke-width="2"/>
<line x1="519.4" y1="1062.8" x2="519.4" y2="1058.3" stroke="#000" stroke-width="2" />
<line x1="519.4" y1="578.3" x2="519.4" y2="582.8" stroke="#000" stroke-width="2" />
<line x1="557.6" y1="1062.8" x2="557.6" y2="1058.3" stroke="#000" stroke-width="2" />
<line x1="557.6" y1="578.3" x2="557.6" y2="582.8" stroke="#000" stroke-width="2" />
<line x1="595.8" y1="1062.8" x2="595.8" y2="1058.3" stroke="#000" stroke-width="2" />
<line x1="595.8" y1="578.3" x2="595.8" y2="582.8" stroke="#000" stroke-width="2" />
<line x1="634.1" y1="1062.8" x2="634.1" y2="1058.3" stroke="#000" stroke-width="2" />
<line x1="634.1" y1="578.3" x2="634.1" y2="582.8" stroke="#000" stroke-width="2" />
<line x1="672.3" y1="1062.8" x2="672.3" y2="1058.3" stroke="#000" stroke-width="2" />
<line x1="672.3" y1="578.3" x2="672.3" y2="582.8" stroke="#000" stroke-width="2" />
<line x1="710.5" y1="1062.8" x2="710.5" y2="1058.3" stroke="#000" stroke-width="2" />
<line x1="710.5" y1="578.3" x2="710.5" y2="582.8" stroke="#000" stroke-width="2" />
<line x1="519.4" y1="982" x2="528.9" y2="982" stroke="#000" stroke-width="2" />
<line x1="710.5" y1="982" x2="701" y2="982" stroke="#000" stroke-width="2" />
<line x1="519.4" y1="820.5" x2="528.9" y2="820.5" stroke="#000" stroke-width="2" />
<line x1="710.5" y1="820.5" x2="701" y2="820.5" stroke="#000" stroke-width="2" />
<line x1="519.4" y1="659" x2="528.9" y2="659" stroke="#000" stroke-width="2" />
<line x1="710.5" y1="659" x2="701" y2="659" stroke="#000" stroke-width="2" />
<line x1="519.4" y1="1022.5" x2="523.9" y2="1022.5" stroke="#000" stroke-width="2" />
<line x1="710.5" y1="1022.5" x2="706" y2="1022.5" stroke="#000" stroke-width="2" />
<line x1="519.4" y1="982.1" x2="523.9" y2="982.1" stroke="#000" stroke-width="2" />
<line x1="710.5" y1="982.1" x2="706" y2="982.1" stroke="#000" stroke-width="2" />
<line x1="519.4" y1="941.7" x2="523.9" y2="941.7" stroke="#000" stroke-width="2" />
<line x1="710.5" y1="941.7" x2="706" y2="941.7" stroke="#000" stroke-width="2" />
<line x1="519.4" y1="901.3" x2="523.9" y2="901.3" stroke="#000" stroke-width="2" />
<line x1="710.5" y1="901.3" x2="706" y2="901.3" stroke="#000" stroke-width="2" />
<line x1="519.4" y1="860.9" x2="523.9" y2="860.9" stroke="#000" stroke-width="2" />
<line x1="710.5" y1="860.9" x2="706" y2="860.9" stroke="#000" stroke-width="2" />
<line x1="519.4" y1="820.5" x2="523.9" y2="820.5" stroke="#000" stroke-width="2" />
<line x1="710.5" y1="820.5" x2="706" y2="820.5" stroke="#000" stroke-width="2" />
<line x1="519.4" y1="780.1" x2="523.9" y2="780.1" stroke="#000" stroke-width="2" />
<line x1="710.5" y1="780.1" x2="706" y2="780.1" stroke="#000" stroke-width="2" />
<line x1="519.4" y1="739.7" x2="523.9" y2="739.7" stroke="#000" stroke-width="2" />
<line x1="710.5" y1="739.7" x2="706" y2="739.7" stroke="#000" stroke-width="2" />
<line x1="519.4" y1="699.3" x2="523.9" y2="699.3" stroke="#000" stroke-width="2" />
<line x1="710.5" y1="699.3" x2="706" y2="699.3" stroke="#000" stroke-width="2" />
<line x1="519.4" y1="658.9" x2="523.9" y2="658.9" stroke="#000" stroke-width="2" />
<line x1="710.5" y1="658.9" x2="706" y2="658.9" stroke="#000" stroke-width="2" />
<line x1="519.4" y1="618.5" x2="523.9" y2="618.5" stroke="#000" stroke-width="2" />
<line x1="710.5" y1="618.5" x2="706" y2="618.5" stroke="#000" stroke-width="2" />
<rect x="738.3" y="578.3" width="191.3" height="484.5" fill="none" stroke="#000" stroke-width="2"/>
<line x1="738.3" y1="1062.8" x2="738.3" y2="1058.3" stroke="#000" stroke-width="2" />
<line x1="738.3" y1="578.3" x2="738.3" y2="582.8" stroke="#000" stroke-width="2" />
<line x1="776.6" y1="1062.8" x2="776.6" y2="1058.3" stroke="#000" stroke-width="2" />
<line x1="776.6" y1="578.3" x2="776.6" y2="582.8" stroke="#000" stroke-width="2" />
<line x1="814.8" y1="1062.8" x2="814.8" y2="1058.3" stroke="#000" stroke-width="2" />
<line x1="814.8" y1="578.3" x2="814.8" y2="582.8" stroke="#000" stroke-width="2" />
<line x1="853.1" y1="1062.8" x2="853.1" y2="1058.3" stroke="#000" stroke-width="2" />
<line x1="853.1" y1="578.3" x2="853.1" y2="582.8" stroke="#000" stroke-width="2" />
<line x1="891.3" y1="1062.8" x2="891.3" y2="1058.3" stroke="#000" stroke-width="2" />
<line x1="891.3" y1="578.3" x2="891.3" y2="582.8" stroke="#000" stroke-width="2" />
<line x1="929.6" y1="1062.8" x2="929.6" y2="1058.3" stroke="#000" stroke-width="2" />
<line x1="929.6" y1="578.3" x2="929.6" y2="582.8" stroke="#000" stroke-width="2" />
<line x1="738.3" y1="820.5" x2="747.8" y2="820.5" stroke="#000" stroke-width="2" />
<line x1="929.6" y1="820.5" x2="920.1" y2="820.5" stroke="#000" stroke-width="2" />
<line x1="738.3" y1="1002.3" x2="742.8" y2="1002.3" stroke="#000" stroke-width="2" />
<line x1="929.6" y1="1002.3" x2="925.1" y2="1002.3" stroke="#000" stroke-width="2" />
<line x1="738.3" y1="941.7" x2="742.8" y2="941.7" stroke="#000" stroke-width="2" />
<line x1="929.6" y1="941.7" x2="925.1" y2="941.7" stroke="#000" stroke-width="2" />
<line x1="738.3" y1="881.1" x2="742.8" y2="881.1" stroke="#000" stroke-width="2" />
<line x1="929.6" y1="881.1" x2="925.1" y2="881.1" stroke="#000" stroke-width="2" />
<line x1="738.3" y1="820.5" x2="742.8" y2="820.5" stroke="#000" stroke-width="2" />
<line x1="929.6" y1="820.5" x2="925.1" y2="820.5" stroke="#000" stroke-width="2" />
<line x1="738.3" y1="759.9" x2="742.8" y2="759.9" stroke="#000" stroke-width="2" />
<line x1="929.6" y1="759.9" x2="925.1" y2="759.9" stroke="#000" stroke-width="2" />
<line x1="738.3" y1="699.3" x2="742.8" y2="699.3" stroke="#000" stroke-width="2" />
<line x1="929.6" y1="699.3" x2="925.1" y2="699.3" stroke="#000" stroke-width="2" />
<line x1="738.3" y1="638.7" x2="742.8" y2="638.7" stroke="#000" stroke-width="2" />
<line x1="929.6" y1="638.7" x2="925.1" y2="638.7" stroke="#000" stroke-width="2" />
<text transform="translate(72.3,585.9) scale(1,1.04)" font-size="28" text-anchor="end" font-weight="normal" fill="#000" >0.2</text>
<text transform="translate(72.3,707) scale(1,1.04)" font-size="28" text-anchor="end" font-weight="normal" fill="#000" >0.1</text>
<text transform="translate(72.3,828.1) scale(1,1.04)" font-size="28" text-anchor="end" font-weight="normal" fill="#000" >0</text>
<text transform="translate(72.3,949.2) scale(1,1.04)" font-size="28" text-anchor="end" font-weight="normal" fill="#000" >-0.1</text>
<text transform="translate(72.3,1070.3) scale(1,1.04)" font-size="28" text-anchor="end" font-weight="normal" fill="#000" >-0.2</text>
<text transform="translate(83.8,1095) scale(1,1.04)" font-size="28" text-anchor="middle" font-weight="normal" fill="#000" >0</text>
<text transform="translate(179.3,1095) scale(1,1.04)" font-size="28" text-anchor="middle" font-weight="normal" fill="#000" >2</text>
<text transform="translate(274.9,1095) scale(1,1.04)" font-size="28" text-anchor="middle" font-weight="normal" fill="#000" >4</text>
<text transform="translate(300.6,1095) scale(1,1.04)" font-size="28" text-anchor="middle" font-weight="normal" fill="#000" >0</text>
<text transform="translate(396,1095) scale(1,1.04)" font-size="28" text-anchor="middle" font-weight="normal" fill="#000" >1</text>
<text transform="translate(491.4,1095) scale(1,1.04)" font-size="28" text-anchor="middle" font-weight="normal" fill="#000" >2</text>
<text transform="translate(519.4,1095) scale(1,1.04)" font-size="28" text-anchor="middle" font-weight="normal" fill="#000" >0</text>
<text transform="translate(710.5,1095) scale(1,1.04)" font-size="28" text-anchor="middle" font-weight="normal" fill="#000" >1</text>
<text transform="translate(738.3,1095) scale(1,1.04)" font-size="28" text-anchor="middle" font-weight="normal" fill="#000" >0</text>
<text transform="translate(929.6,1095) scale(1,1.04)" font-size="28" text-anchor="middle" font-weight="normal" fill="#000" >1</text>
<text transform="translate(98,622.5) scale(1.025,1.04)" font-size="28" fill="#808080"><tspan font-style="italic">f</tspan> = 0.5 Hz</text>
<text transform="translate(318.5,622) scale(1.025,1.04)" font-size="28" text-anchor="start" font-weight="normal" fill="#808080" >2 Hz</text>
<text transform="translate(537.5,622) scale(1.025,1.04)" font-size="28" text-anchor="start" font-weight="normal" fill="#808080" >5 Hz</text>
<text transform="translate(750,622) scale(1.025,1.04)" font-size="28" text-anchor="start" font-weight="normal" fill="#808080" >10 Hz</text>
<text transform="translate(458,1133.3) scale(1.025,1.04)" font-size="28"><tspan font-weight="bold">Time</tspan> (s)</text>
<text transform="translate(26.2,891.5) rotate(-90) scale(1.025,1.04)" font-size="28"><tspan font-weight="bold">Voltage</tspan> (V)</text>
<text transform="translate(2.5,513) scale(1,1.04)" font-size="38" text-anchor="start" font-weight="bold" fill="#000" >c</text>
<clipPath id="cd"><rect x="80.2" y="1232.2" width="850.6" height="262.5"/></clipPath>
<path d="M80.2,1494.7 L88.7,1491.7 L97.2,1488.9 L105.7,1486.2 L114.2,1483.4 L122.7,1480.7 L131.2,1478.1 L139.7,1475.4 L148.2,1472.8 L156.8,1470.2 L165.3,1467.5 L173.8,1464.9 L182.3,1462.3 L190.8,1459.8 L199.3,1457.2 L207.8,1454.6 L216.3,1452.1 L224.8,1449.5 L233.3,1446.9 L241.8,1444.4 L250.3,1441.9 L258.8,1439.3 L267.3,1436.8 L275.8,1434.3 L284.3,1431.8 L292.9,1429.2 L301.4,1426.7 L309.9,1424.2 L318.4,1421.7 L326.9,1419.2 L335.4,1416.7 L343.9,1414.2 L352.4,1411.7 L360.9,1409.3 L369.4,1406.8 L377.9,1404.3 L386.4,1401.8 L394.9,1399.3 L403.4,1396.9 L411.9,1394.4 L420.4,1391.9 L428.9,1389.5 L437.5,1387.0 L446.0,1384.5 L454.5,1382.1 L463.0,1379.6 L471.5,1377.2 L480.0,1374.7 L488.5,1372.3 L497.0,1369.8 L505.5,1367.4 L514.0,1364.9 L522.5,1362.5 L531.0,1360.0 L539.5,1357.6 L548.0,1355.2 L556.5,1352.7 L565.0,1350.3 L573.5,1347.9 L582.1,1345.4 L590.6,1343.0 L599.1,1340.6 L607.6,1338.2 L616.1,1335.7 L624.6,1333.3 L633.1,1330.9 L641.6,1328.5 L650.1,1326.1 L658.6,1323.6 L667.1,1321.2 L675.6,1318.8 L684.1,1316.4 L692.6,1314.0 L701.1,1311.6 L709.6,1309.2 L718.2,1306.8 L726.7,1304.4 L735.2,1302.0 L743.7,1299.6 L752.2,1297.2 L760.7,1294.8 L769.2,1292.4 L777.7,1290.0 L786.2,1287.6 L794.7,1285.2 L803.2,1282.8 L811.7,1280.4 L820.2,1278.0 L828.7,1275.6 L837.2,1273.2 L845.7,1270.8 L854.2,1268.4 L862.8,1266.1 L871.3,1263.7 L879.8,1261.3 L888.3,1258.9 L896.8,1256.5 L905.3,1254.1 L913.8,1251.8 L922.3,1249.4 L930.8,1247.0" fill="none" stroke="rgba(130,140,235,0.55)" stroke-width="4.8" clip-path="url(#cd)"/>
<line x1="80.2" y1="1494.7" x2="930.8" y2="1369.7" stroke="rgba(240,70,70,0.68)" stroke-width="4.8" clip-path="url(#cd)"/>
<rect x="80.2" y="1232.2" width="850.6" height="262.5" fill="none" stroke="#000" stroke-width="2"/>
<line x1="80.2" y1="1494.7" x2="80.2" y2="1484.7" stroke="#000" stroke-width="2" />
<line x1="80.2" y1="1232.2" x2="80.2" y2="1242.2" stroke="#000" stroke-width="2" />
<line x1="250.3" y1="1494.7" x2="250.3" y2="1484.7" stroke="#000" stroke-width="2" />
<line x1="250.3" y1="1232.2" x2="250.3" y2="1242.2" stroke="#000" stroke-width="2" />
<line x1="420.4" y1="1494.7" x2="420.4" y2="1484.7" stroke="#000" stroke-width="2" />
<line x1="420.4" y1="1232.2" x2="420.4" y2="1242.2" stroke="#000" stroke-width="2" />
<line x1="590.6" y1="1494.7" x2="590.6" y2="1484.7" stroke="#000" stroke-width="2" />
<line x1="590.6" y1="1232.2" x2="590.6" y2="1242.2" stroke="#000" stroke-width="2" />
<line x1="760.7" y1="1494.7" x2="760.7" y2="1484.7" stroke="#000" stroke-width="2" />
<line x1="760.7" y1="1232.2" x2="760.7" y2="1242.2" stroke="#000" stroke-width="2" />
<line x1="930.8" y1="1494.7" x2="930.8" y2="1484.7" stroke="#000" stroke-width="2" />
<line x1="930.8" y1="1232.2" x2="930.8" y2="1242.2" stroke="#000" stroke-width="2" />
<line x1="80.2" y1="1494.7" x2="80.2" y2="1489.7" stroke="#000" stroke-width="2" />
<line x1="80.2" y1="1232.2" x2="80.2" y2="1237.2" stroke="#000" stroke-width="2" />
<line x1="122.7" y1="1494.7" x2="122.7" y2="1489.7" stroke="#000" stroke-width="2" />
<line x1="122.7" y1="1232.2" x2="122.7" y2="1237.2" stroke="#000" stroke-width="2" />
<line x1="165.3" y1="1494.7" x2="165.3" y2="1489.7" stroke="#000" stroke-width="2" />
<line x1="165.3" y1="1232.2" x2="165.3" y2="1237.2" stroke="#000" stroke-width="2" />
<line x1="207.8" y1="1494.7" x2="207.8" y2="1489.7" stroke="#000" stroke-width="2" />
<line x1="207.8" y1="1232.2" x2="207.8" y2="1237.2" stroke="#000" stroke-width="2" />
<line x1="250.3" y1="1494.7" x2="250.3" y2="1489.7" stroke="#000" stroke-width="2" />
<line x1="250.3" y1="1232.2" x2="250.3" y2="1237.2" stroke="#000" stroke-width="2" />
<line x1="292.9" y1="1494.7" x2="292.9" y2="1489.7" stroke="#000" stroke-width="2" />
<line x1="292.9" y1="1232.2" x2="292.9" y2="1237.2" stroke="#000" stroke-width="2" />
<line x1="335.4" y1="1494.7" x2="335.4" y2="1489.7" stroke="#000" stroke-width="2" />
<line x1="335.4" y1="1232.2" x2="335.4" y2="1237.2" stroke="#000" stroke-width="2" />
<line x1="377.9" y1="1494.7" x2="377.9" y2="1489.7" stroke="#000" stroke-width="2" />
<line x1="377.9" y1="1232.2" x2="377.9" y2="1237.2" stroke="#000" stroke-width="2" />
<line x1="420.4" y1="1494.7" x2="420.4" y2="1489.7" stroke="#000" stroke-width="2" />
<line x1="420.4" y1="1232.2" x2="420.4" y2="1237.2" stroke="#000" stroke-width="2" />
<line x1="463" y1="1494.7" x2="463" y2="1489.7" stroke="#000" stroke-width="2" />
<line x1="463" y1="1232.2" x2="463" y2="1237.2" stroke="#000" stroke-width="2" />
<line x1="505.5" y1="1494.7" x2="505.5" y2="1489.7" stroke="#000" stroke-width="2" />
<line x1="505.5" y1="1232.2" x2="505.5" y2="1237.2" stroke="#000" stroke-width="2" />
<line x1="548" y1="1494.7" x2="548" y2="1489.7" stroke="#000" stroke-width="2" />
<line x1="548" y1="1232.2" x2="548" y2="1237.2" stroke="#000" stroke-width="2" />
<line x1="590.6" y1="1494.7" x2="590.6" y2="1489.7" stroke="#000" stroke-width="2" />
<line x1="590.6" y1="1232.2" x2="590.6" y2="1237.2" stroke="#000" stroke-width="2" />
<line x1="633.1" y1="1494.7" x2="633.1" y2="1489.7" stroke="#000" stroke-width="2" />
<line x1="633.1" y1="1232.2" x2="633.1" y2="1237.2" stroke="#000" stroke-width="2" />
<line x1="675.6" y1="1494.7" x2="675.6" y2="1489.7" stroke="#000" stroke-width="2" />
<line x1="675.6" y1="1232.2" x2="675.6" y2="1237.2" stroke="#000" stroke-width="2" />
<line x1="718.2" y1="1494.7" x2="718.2" y2="1489.7" stroke="#000" stroke-width="2" />
<line x1="718.2" y1="1232.2" x2="718.2" y2="1237.2" stroke="#000" stroke-width="2" />
<line x1="760.7" y1="1494.7" x2="760.7" y2="1489.7" stroke="#000" stroke-width="2" />
<line x1="760.7" y1="1232.2" x2="760.7" y2="1237.2" stroke="#000" stroke-width="2" />
<line x1="803.2" y1="1494.7" x2="803.2" y2="1489.7" stroke="#000" stroke-width="2" />
<line x1="803.2" y1="1232.2" x2="803.2" y2="1237.2" stroke="#000" stroke-width="2" />
<line x1="845.7" y1="1494.7" x2="845.7" y2="1489.7" stroke="#000" stroke-width="2" />
<line x1="845.7" y1="1232.2" x2="845.7" y2="1237.2" stroke="#000" stroke-width="2" />
<line x1="888.3" y1="1494.7" x2="888.3" y2="1489.7" stroke="#000" stroke-width="2" />
<line x1="888.3" y1="1232.2" x2="888.3" y2="1237.2" stroke="#000" stroke-width="2" />
<line x1="930.8" y1="1494.7" x2="930.8" y2="1489.7" stroke="#000" stroke-width="2" />
<line x1="930.8" y1="1232.2" x2="930.8" y2="1237.2" stroke="#000" stroke-width="2" />
<line x1="80.2" y1="1494.7" x2="85.2" y2="1494.7" stroke="#000" stroke-width="2" />
<line x1="930.8" y1="1494.7" x2="925.8" y2="1494.7" stroke="#000" stroke-width="2" />
<line x1="80.2" y1="1442.2" x2="85.2" y2="1442.2" stroke="#000" stroke-width="2" />
<line x1="930.8" y1="1442.2" x2="925.8" y2="1442.2" stroke="#000" stroke-width="2" />
<line x1="80.2" y1="1389.7" x2="85.2" y2="1389.7" stroke="#000" stroke-width="2" />
<line x1="930.8" y1="1389.7" x2="925.8" y2="1389.7" stroke="#000" stroke-width="2" />
<line x1="80.2" y1="1337.2" x2="85.2" y2="1337.2" stroke="#000" stroke-width="2" />
<line x1="930.8" y1="1337.2" x2="925.8" y2="1337.2" stroke="#000" stroke-width="2" />
<line x1="80.2" y1="1284.7" x2="85.2" y2="1284.7" stroke="#000" stroke-width="2" />
<line x1="930.8" y1="1284.7" x2="925.8" y2="1284.7" stroke="#000" stroke-width="2" />
<line x1="80.2" y1="1232.2" x2="85.2" y2="1232.2" stroke="#000" stroke-width="2" />
<line x1="930.8" y1="1232.2" x2="925.8" y2="1232.2" stroke="#000" stroke-width="2" />
<circle cx="88.7" cy="1493.5" r="8.2" fill="rgba(255,40,40,0.6)" stroke="rgba(70,30,30,0.75)" stroke-width="1.8"/>
<circle cx="122.7" cy="1489" r="8.2" fill="rgba(255,40,40,0.6)" stroke="rgba(70,30,30,0.75)" stroke-width="1.8"/>
<circle cx="165.3" cy="1483.2" r="8.2" fill="rgba(255,40,40,0.6)" stroke="rgba(70,30,30,0.75)" stroke-width="1.8"/>
<circle cx="207.8" cy="1477.3" r="8.2" fill="rgba(255,40,40,0.6)" stroke="rgba(70,30,30,0.75)" stroke-width="1.8"/>
<circle cx="250.3" cy="1468.4" r="8.2" fill="rgba(255,40,40,0.6)" stroke="rgba(70,30,30,0.75)" stroke-width="1.8"/>
<circle cx="292.9" cy="1462.9" r="8.2" fill="rgba(255,40,40,0.6)" stroke="rgba(70,30,30,0.75)" stroke-width="1.8"/>
<circle cx="335.4" cy="1459.5" r="8.2" fill="rgba(255,40,40,0.6)" stroke="rgba(70,30,30,0.75)" stroke-width="1.8"/>
<circle cx="377.9" cy="1452.9" r="8.2" fill="rgba(255,40,40,0.6)" stroke="rgba(70,30,30,0.75)" stroke-width="1.8"/>
<circle cx="420.4" cy="1448.2" r="8.2" fill="rgba(255,40,40,0.6)" stroke="rgba(70,30,30,0.75)" stroke-width="1.8"/>
<circle cx="463.0" cy="1442.4" r="8.2" fill="rgba(255,40,40,0.6)" stroke="rgba(70,30,30,0.75)" stroke-width="1.8"/>
<circle cx="505.5" cy="1428" r="8.2" fill="rgba(255,40,40,0.6)" stroke="rgba(70,30,30,0.75)" stroke-width="1.8"/>
<circle cx="590.6" cy="1417" r="8.2" fill="rgba(255,40,40,0.6)" stroke="rgba(70,30,30,0.75)" stroke-width="1.8"/>
<circle cx="675.6" cy="1407.5" r="8.2" fill="rgba(255,40,40,0.6)" stroke="rgba(70,30,30,0.75)" stroke-width="1.8"/>
<circle cx="760.7" cy="1399" r="8.2" fill="rgba(255,40,40,0.6)" stroke="rgba(70,30,30,0.75)" stroke-width="1.8"/>
<circle cx="845.7" cy="1393.6" r="8.2" fill="rgba(255,40,40,0.6)" stroke="rgba(70,30,30,0.75)" stroke-width="1.8"/>
<circle cx="930.8" cy="1388.6" r="8.2" fill="rgba(255,40,40,0.6)" stroke="rgba(70,30,30,0.75)" stroke-width="1.8"/>
<path d="M88.7,1480.7 L99.0,1491.0 L88.7,1501.3 L78.4,1491.0 Z" fill="rgba(90,100,245,0.78)" stroke="rgba(40,40,90,0.8)" stroke-width="2"/>
<path d="M122.7,1470.3 L133.0,1480.6 L122.7,1490.9 L112.4,1480.6 Z" fill="rgba(90,100,245,0.78)" stroke="rgba(40,40,90,0.8)" stroke-width="2"/>
<path d="M165.3,1459.2 L175.6,1469.5 L165.3,1479.8 L155.0,1469.5 Z" fill="rgba(90,100,245,0.78)" stroke="rgba(40,40,90,0.8)" stroke-width="2"/>
<path d="M207.8,1448.0 L218.1,1458.3 L207.8,1468.6 L197.5,1458.3 Z" fill="rgba(90,100,245,0.78)" stroke="rgba(40,40,90,0.8)" stroke-width="2"/>
<path d="M250.3,1436.6 L260.6,1446.9 L250.3,1457.2 L240.0,1446.9 Z" fill="rgba(90,100,245,0.78)" stroke="rgba(40,40,90,0.8)" stroke-width="2"/>
<path d="M292.9,1410.5 L303.2,1420.8 L292.9,1431.1 L282.6,1420.8 Z" fill="rgba(90,100,245,0.78)" stroke="rgba(40,40,90,0.8)" stroke-width="2"/>
<path d="M335.4,1399.2 L345.7,1409.5 L335.4,1419.8 L325.1,1409.5 Z" fill="rgba(90,100,245,0.78)" stroke="rgba(40,40,90,0.8)" stroke-width="2"/>
<path d="M377.9,1391.3 L388.2,1401.6 L377.9,1411.9 L367.6,1401.6 Z" fill="rgba(90,100,245,0.78)" stroke="rgba(40,40,90,0.8)" stroke-width="2"/>
<path d="M420.4,1383.4 L430.7,1393.7 L420.4,1404.0 L410.1,1393.7 Z" fill="rgba(90,100,245,0.78)" stroke="rgba(40,40,90,0.8)" stroke-width="2"/>
<path d="M463.0,1347.1 L473.3,1357.4 L463.0,1367.7 L452.7,1357.4 Z" fill="rgba(90,100,245,0.78)" stroke="rgba(40,40,90,0.8)" stroke-width="2"/>
<path d="M505.5,1338.6 L515.8,1348.9 L505.5,1359.2 L495.2,1348.9 Z" fill="rgba(90,100,245,0.78)" stroke="rgba(40,40,90,0.8)" stroke-width="2"/>
<path d="M590.6,1314.4 L600.9,1324.7 L590.6,1335.0 L580.3,1324.7 Z" fill="rgba(90,100,245,0.78)" stroke="rgba(40,40,90,0.8)" stroke-width="2"/>
<path d="M675.6,1300.2 L685.9,1310.5 L675.6,1320.8 L665.3,1310.5 Z" fill="rgba(90,100,245,0.78)" stroke="rgba(40,40,90,0.8)" stroke-width="2"/>
<path d="M760.7,1267.7 L771.0,1278.0 L760.7,1288.3 L750.4,1278.0 Z" fill="rgba(90,100,245,0.78)" stroke="rgba(40,40,90,0.8)" stroke-width="2"/>
<path d="M845.7,1240.1 L856.0,1250.4 L845.7,1260.7 L835.4,1250.4 Z" fill="rgba(90,100,245,0.78)" stroke="rgba(40,40,90,0.8)" stroke-width="2"/>
<path d="M930.8,1238.7 L941.1,1249.0 L930.8,1259.3 L920.5,1249.0 Z" fill="rgba(90,100,245,0.78)" stroke="rgba(40,40,90,0.8)" stroke-width="2"/>
<text transform="translate(80.2,1526.5) scale(1,1.04)" font-size="28" text-anchor="middle" font-weight="normal" fill="#000" >0</text>
<text transform="translate(250.3,1526.5) scale(1,1.04)" font-size="28" text-anchor="middle" font-weight="normal" fill="#000" >2</text>
<text transform="translate(420.4,1526.5) scale(1,1.04)" font-size="28" text-anchor="middle" font-weight="normal" fill="#000" >4</text>
<text transform="translate(590.6,1526.5) scale(1,1.04)" font-size="28" text-anchor="middle" font-weight="normal" fill="#000" >6</text>
<text transform="translate(760.7,1526.5) scale(1,1.04)" font-size="28" text-anchor="middle" font-weight="normal" fill="#000" >8</text>
<text transform="translate(930.8,1526.5) scale(1,1.04)" font-size="28" text-anchor="middle" font-weight="normal" fill="#000" >10</text>
<text transform="translate(68.5,1500.7) scale(1,1.04)" font-size="28" text-anchor="end" font-weight="normal" fill="#000" >0</text>
<text transform="translate(68.5,1238.6) scale(1,1.04)" font-size="28" text-anchor="end" font-weight="normal" fill="#000" >0.5</text>
<text transform="translate(404,1558.5) scale(1.025,1.04)" font-size="28"><tspan font-weight="bold">Frequency</tspan> (Hz)</text>
<text transform="translate(21.6,1473.5) rotate(-90) scale(1.025,1.04)" font-size="28"><tspan font-weight="bold">Peak voltage</tspan> (V)</text>
<text transform="translate(511,1302) scale(1.025,1.04)" font-size="28" fill="#7b80e0"><tspan font-style="italic">L</tspan> = 20 mm</text>
<text transform="translate(682.5,1379.3) scale(1.025,1.04)" font-size="28" fill="#f27f7f"><tspan font-style="italic">L</tspan> = 10 mm</text>
<text transform="translate(2.5,1209.5) scale(1,1.04)" font-size="38" text-anchor="start" font-weight="bold" fill="#000" >d</text>
<path d="M134,1639.8 H75.8 V1979 H231.5" fill="none" stroke="#000" stroke-width="3"/>
<path d="M205.6,1639.8 H302.6 V1646" fill="none" stroke="#000" stroke-width="3"/>
<path d="M276.0,1638.0 L76.2,2044.6 A12.6,4.3 26.26 0 0 98.8,2055.8 L298.6,1649.2 Z" fill="#f0f0f0" stroke="#000" stroke-width="2.5" stroke-linejoin="round"/>
<ellipse cx="287.3" cy="1643.6" rx="12.6" ry="4.3" transform="rotate(26.26 287.3 1643.6)" fill="#f0f0f0" stroke="#000" stroke-width="2.5"/>
<path d="M301.9,1649.2 L101.1,2054.9 A12.6,4.3 26.26 0 0 123.7,2066.1 L324.5,1660.4 Z" fill="#f0f0f0" stroke="#000" stroke-width="2.5" stroke-linejoin="round"/>
<ellipse cx="313.2" cy="1654.8" rx="12.6" ry="4.3" transform="rotate(26.26 313.2 1654.8)" fill="#f0f0f0" stroke="#000" stroke-width="2.5"/>
<path d="M283.4,1651.2 L83.8,2056.4 A12.6,4.3 26.26 0 0 106.3,2067.6 L306.0,1662.4 Z" fill="#f0f0f0" stroke="#000" stroke-width="2.5" stroke-linejoin="round"/>
<ellipse cx="294.7" cy="1656.8" rx="12.6" ry="4.3" transform="rotate(26.26 294.7 1656.8)" fill="#f0f0f0" stroke="#000" stroke-width="2.5"/>
<path d="M286.8,1640.6 A4.8,1.92 26.26 0 0 295.4,1644.8 L299.6,1636.3 L291.0,1632.0 Z" fill="#000" stroke="#000" stroke-width="1.2"/>
<ellipse cx="295.3" cy="1634.2" rx="4.8" ry="1.9" transform="rotate(26.26 295.3 1634.2)" fill="#2a2a2a" stroke="#000" stroke-width="1.2"/>
<path d="M309.1,1650.9 A4.8,1.92 26.26 0 0 317.7,1655.1 L321.9,1646.6 L313.3,1642.4 Z" fill="#000" stroke="#000" stroke-width="1.2"/>
<ellipse cx="317.6" cy="1644.5" rx="4.8" ry="1.9" transform="rotate(26.26 317.6 1644.5)" fill="#2a2a2a" stroke="#000" stroke-width="1.2"/>
<path d="M292.0,1653.1 A4.8,1.92 26.26 0 0 300.7,1657.4 L304.9,1648.9 L296.2,1644.6 Z" fill="#000" stroke="#000" stroke-width="1.2"/>
<ellipse cx="300.5" cy="1646.8" rx="4.8" ry="1.9" transform="rotate(26.26 300.5 1646.8)" fill="#2a2a2a" stroke="#000" stroke-width="1.2"/>
<path d="M152,1712 C165,1713 175,1718 181,1730 C186,1742 196,1755 207,1768" fill="none" stroke="#404040" stroke-width="17" stroke-linecap="round"/>
<path d="M172,1825 C176,1812 185,1802 200,1798.5 C222,1795 245,1797 261,1802.5" fill="none" stroke="#404040" stroke-width="18" stroke-linecap="round"/>
<path d="M134.5,1901.5 C138,1888 148,1878 162,1874 C185,1869.5 208,1872 225.5,1879.5" fill="none" stroke="#404040" stroke-width="18" stroke-linecap="round"/>
<path d="M197.5,1935 C205,1944 212,1953 216,1963 C219,1971 224,1976 232,1978.5" fill="none" stroke="#404040" stroke-width="17" stroke-linecap="round"/>
<line x1="75.8" y1="1979" x2="231.5" y2="1979" stroke="#000" stroke-width="3"/>
<line x1="157.9" y1="1750" x2="204" y2="1772" stroke="#000" stroke-width="2.1" stroke-dasharray="5.5,4.2"/>
<line x1="93.7" y1="1880.5" x2="140" y2="1904.7" stroke="#000" stroke-width="2.1" stroke-dasharray="5.5,4.2"/>
<line x1="164" y1="1767" x2="118" y2="1875" stroke="#000" stroke-width="2.2"/>
<path d="M171.0,1754.6 L171.1,1774.7 L155.0,1766.8 Z" fill="#000"/>
<path d="M111.6,1888.0 L111.5,1867.9 L127.6,1875.8 Z" fill="#000"/>
<text transform="translate(122.3,1827.2) rotate(-63.7) scale(1,1.04)" font-size="34" font-style="italic" stroke="#000" stroke-width="0.5">L</text>
<line x1="338" y1="1690" x2="160" y2="2053" stroke="#f84444" stroke-width="2.1"/>
<path d="M345.5,1674.7 L345.5,1696.5 L328.2,1687.9 Z" fill="#f84444"/>
<path d="M152.2,2068.7 L152.2,2046.9 L169.5,2055.5 Z" fill="#f84444"/>
<text transform="translate(245.7,1963.4) rotate(-63.7) scale(1,1.04)" font-size="32.5" fill="#e8000b" stroke="#e8000b" stroke-width="0.5">dynamic<tspan dx="-4"> strain</tspan></text>
<circle cx="169.8" cy="1639.8" r="34.8" fill="#fff" stroke="#000" stroke-width="2.6"/>
<text transform="translate(170.3,1652.2) scale(1,1.04)" font-size="32" font-weight="bold" text-anchor="middle">V</text>
<path d="M252,2024 L284.2,1989.3 C300,1983 325,1990 339.8,2013.7 C342,2025 340,2033 338.1,2035.6 L323.8,2077.7 Z" fill="#fff" stroke="#000" stroke-width="1.6"/>
<circle cx="266.8" cy="2080.4" r="55.0" fill="#fff" stroke="#000" stroke-width="2.6"/>
<path d="M221,2032 C237,2013 259,2002.5 281,2001.5 C306,2001 330,2009.5 342,2028" fill="none" stroke="#404040" stroke-width="17.5" stroke-linecap="round"/>
<line x1="266.8" y1="2080.4" x2="266.8" y2="2045.2" stroke="#000" stroke-width="2"/>
<line x1="266.8" y1="2039.7" x2="266.8" y2="2025.4" stroke="#000" stroke-width="2"/>
<line x1="274.8" y1="2045.2" x2="258.8" y2="2045.2" stroke="#000" stroke-width="2"/>
<line x1="274.8" y1="2039.7" x2="258.8" y2="2039.7" stroke="#000" stroke-width="2"/>
<line x1="266.8" y1="2080.4" x2="295.3" y2="2059.7" stroke="#000" stroke-width="2"/>
<line x1="299.8" y1="2056.4" x2="311.3" y2="2048.1" stroke="#000" stroke-width="2"/>
<line x1="300.0" y1="2066.2" x2="290.6" y2="2053.2" stroke="#000" stroke-width="2"/>
<line x1="304.5" y1="2062.9" x2="295.1" y2="2050.0" stroke="#000" stroke-width="2"/>
<line x1="266.8" y1="2080.4" x2="295.3" y2="2101.1" stroke="#000" stroke-width="2"/>
<line x1="299.8" y1="2104.4" x2="311.3" y2="2112.7" stroke="#000" stroke-width="2"/>
<line x1="290.6" y1="2107.6" x2="300.0" y2="2094.6" stroke="#000" stroke-width="2"/>
<line x1="295.1" y1="2110.8" x2="304.5" y2="2097.9" stroke="#000" stroke-width="2"/>
<line x1="266.8" y1="2080.4" x2="266.8" y2="2115.7" stroke="#000" stroke-width="2"/>
<line x1="266.8" y1="2121.2" x2="266.8" y2="2135.4" stroke="#000" stroke-width="2"/>
<line x1="258.8" y1="2115.7" x2="274.8" y2="2115.7" stroke="#000" stroke-width="2"/>
<line x1="258.8" y1="2121.2" x2="274.8" y2="2121.2" stroke="#000" stroke-width="2"/>
<line x1="266.8" y1="2080.4" x2="238.3" y2="2101.1" stroke="#000" stroke-width="2"/>
<line x1="233.8" y1="2104.4" x2="222.3" y2="2112.7" stroke="#000" stroke-width="2"/>
<line x1="233.6" y1="2094.6" x2="243.0" y2="2107.6" stroke="#000" stroke-width="2"/>
<line x1="229.1" y1="2097.9" x2="238.5" y2="2110.8" stroke="#000" stroke-width="2"/>
<line x1="266.8" y1="2080.4" x2="238.3" y2="2059.7" stroke="#000" stroke-width="2"/>
<line x1="233.8" y1="2056.4" x2="222.3" y2="2048.1" stroke="#000" stroke-width="2"/>
<line x1="243.0" y1="2053.2" x2="233.6" y2="2066.2" stroke="#000" stroke-width="2"/>
<line x1="238.5" y1="2050.0" x2="229.1" y2="2062.9" stroke="#000" stroke-width="2"/>
<circle cx="266.8" cy="2080.4" r="19.5" fill="#000"/>
<text transform="translate(2,1624.5) scale(1,1.04)" font-size="39" font-weight="bold">e</text>
<clipPath id="cf"><rect x="359.8" y="1637.8" width="233.4" height="431.8"/></clipPath>
<filter id="pb" x="-5%" y="-5%" width="110%" height="110%"><feGaussianBlur stdDeviation="1.1"/></filter>
<filter id="pb3" x="-20%" y="-20%" width="140%" height="140%"><feGaussianBlur stdDeviation="3"/></filter>
<linearGradient id="gRodBig" x1="0" x2="1" y1="0" y2="0">
<stop offset="0" stop-color="#8a7e68"/><stop offset="0.15" stop-color="#b4a88c"/><stop offset="0.35" stop-color="#a8a08c"/>
<stop offset="0.45" stop-color="#7a7a7c"/><stop offset="0.6" stop-color="#aeb2ba"/><stop offset="0.8" stop-color="#9a9ca4"/><stop offset="1" stop-color="#5a5a60"/></linearGradient>
<linearGradient id="gRodMid" x1="0" x2="1" y1="0" y2="0">
<stop offset="0" stop-color="#6f6656"/><stop offset="0.3" stop-color="#b4aa94"/><stop offset="0.6" stop-color="#9a968e"/>
<stop offset="0.75" stop-color="#e4e6ee"/><stop offset="0.9" stop-color="#8a8a90"/><stop offset="1" stop-color="#4a4640"/></linearGradient>
<linearGradient id="gRodL" x1="0" x2="1" y1="0" y2="0">
<stop offset="0" stop-color="#6a6254"/><stop offset="0.4" stop-color="#a89c84"/><stop offset="0.75" stop-color="#c8ccd8"/><stop offset="1" stop-color="#5a5650"/></linearGradient>
<linearGradient id="gBase" x1="0" x2="0" y1="0" y2="1">
<stop offset="0" stop-color="#6c6456"/><stop offset="0.5" stop-color="#8c806a"/><stop offset="1" stop-color="#7a6e5c"/></linearGradient>
<linearGradient id="gCollar" x1="0" x2="1" y1="0" y2="0">
<stop offset="0" stop-color="#8a8270"/><stop offset="0.3" stop-color="#c4bca8"/><stop offset="0.6" stop-color="#a49c8a"/><stop offset="1" stop-color="#6a645a"/></linearGradient>
<linearGradient id="gPlate" x1="0" x2="1" y1="0" y2="0.3">
<stop offset="0" stop-color="#6e675c"/><stop offset="0.6" stop-color="#7c7466"/><stop offset="1" stop-color="#857c6c"/></linearGradient>
<linearGradient id="gPaper" x1="0" x2="1" y1="0" y2="1">
<stop offset="0" stop-color="#f2f2f6"/><stop offset="1" stop-color="#e2e2e8"/></linearGradient>
<g clip-path="url(#cf)"><g filter="url(#pb)">
<rect x="354.8" y="1632.8" width="243.4" height="441.8" fill="#6e685e"/>
<rect x="355" y="1630" width="90" height="60" fill="#1f2838"/>
<rect x="395" y="1636" width="40" height="44" fill="#2c3444" filter="url(#pb3)"/>
<ellipse cx="413" cy="1660" rx="9" ry="14" fill="#8a9ab0" filter="url(#pb3)"/>
<rect x="440" y="1630" width="104" height="66" fill="#cdd0d3"/>
<rect x="480" y="1656" width="14" height="10" fill="#9a9ea2" filter="url(#pb3)"/>
<rect x="542" y="1630" width="24" height="95" fill="#6b645a"/>
<path d="M560,1630 L585,1630 L572,1716 L563,1716 Z" fill="#6b8cbd"/>
<rect x="581" y="1630" width="15" height="92" fill="#c4c6c9"/>
<rect x="566" y="1716" width="30" height="280" fill="#2a2b2f"/>
<rect x="355" y="1755" width="32" height="240" fill="#7a7062"/>
<rect x="368" y="1765" width="9" height="130" fill="#9a8e78"/>
<rect x="380" y="1775" width="6" height="120" fill="#4a443c"/>
<path d="M438,1634 L478,1634 L472,1670 L467,1705 L466,1735 L469,1765 L469,1815 L490,1818 L513,1812 L514,1870 L506,1897 L478,1897 L470,1870 L462,1852 L412,1852 L420,1808 L385,1768 L430,1768 L428,1700 L431,1678 Z" fill="url(#gPaper)"/>
<path d="M446,1640 L441,1678" stroke="#9a9aa2" stroke-width="1.2" fill="none"/>
<path d="M383,1768 L398,1771 L421,1806 L413,1852 L388,1852 L385,1790 Z" fill="#1c2640"/>
<rect x="383" y="1796" width="15" height="26" fill="#b4a688"/>
<ellipse cx="390.5" cy="1797" rx="7.5" ry="3.5" fill="#d0c4a0"/>
<rect x="378" y="1818" width="28" height="10" fill="#9a9078"/>
<path d="M437,1752 L436,1790 L438,1810 L436,1830 L437,1852" stroke="#2a2a2a" stroke-width="1.6" fill="none"/>
<path d="M392,1781 C400,1783 410,1788 420,1795 C428,1800 433,1805 436,1808" stroke="#3a3a3a" stroke-width="1.2" fill="none"/>
<path d="M437,1844 C448,1848 460,1852 470,1850 C478,1850 484,1852 490,1855 C498,1856 505,1850 512,1836" stroke="#3a3a3a" stroke-width="1.1" fill="none"/>
<path d="M512,1836 C520,1828 528,1824 536,1824" stroke="#e8e8e8" stroke-width="1.2" fill="none"/>
<path d="M468,1690 L500,1694 L536,1704 L558,1714 L572,1730 L580,1750 L582,1786 L579,1816 L574,1840 L570,1875 L560,1895 L515,1895 L515,1810 L510,1780 L495,1762 L470,1753 Z" fill="url(#gPlate)"/>
<path d="M468,1690 L500,1694 L536,1704 L558,1714 L572,1730 L580,1750 L582,1786" stroke="#cfc6aa" stroke-width="1.3" fill="none"/>
<path d="M468,1753 L495,1762 L510,1780 L515,1810 L513,1815 L490,1818 L470,1816 Z" fill="#2a2826"/>
<path d="M476,1822 L512,1812" stroke="#f4f4f4" stroke-width="3" fill="none"/>
<rect x="355" y="1680" width="47" height="92" fill="#5c5446"/>
<rect x="355" y="1678" width="50" height="5" fill="#8a8270"/>
<rect x="401" y="1680" width="49" height="30" fill="#675d4f"/>
<rect x="401" y="1678" width="49" height="4" fill="#8a8270"/>
<rect x="449" y="1682" width="8" height="30" fill="#4e4a48"/>
<rect x="401" y="1708" width="67" height="14" fill="#8a8270"/>
<rect x="401" y="1722" width="67" height="17" fill="#4f4940"/>
<rect x="401" y="1738" width="66" height="12" fill="#847c6c"/>
<rect x="401" y="1750" width="58" height="18" fill="#574f43"/>
<rect x="458" y="1712" width="10" height="40" fill="#3e3a36"/>
<circle cx="462" cy="1730" r="2.5" fill="#111"/>
<rect x="398" y="1680" width="4" height="90" fill="#3a352e"/>
<ellipse cx="374" cy="1731" rx="17" ry="20" fill="#9c968c"/>
<ellipse cx="370" cy="1733" rx="10" ry="13" fill="#6a6a72"/>
<ellipse cx="367" cy="1736" rx="6" ry="8" fill="#2a2622"/>
<rect x="533" y="1822" width="33" height="34" fill="#c07c56"/>
<rect x="537" y="1826" width="12" height="22" fill="#d8a07a"/>
<path d="M547,1834 L596,1819 L596,1844 L552,1854 Z" fill="#a89878"/>
<path d="M553,1838 L596,1827 L596,1838 L556,1848 Z" fill="#4a3a2a"/>
<path d="M562,1827 L596,1814 L596,1820 L565,1831 Z" fill="#3a3430"/>
<path d="M396,1850 L462,1850 L470,1862 L467,1960 L455,1972 L395,1965 L391,1905 Z" fill="#686050"/>
<rect x="398" y="1850" width="58" height="28" fill="#4f473b"/>
<rect x="402" y="1862" width="50" height="7" fill="#6e6656"/>
<rect x="452" y="1855" width="14" height="90" fill="#7a7260"/>
<rect x="441" y="1886" width="8" height="46" fill="#2c2a28"/>
<path d="M464,1884 L478,1880 L478,1952 L466,1956 Z" fill="#34343a"/>
<circle cx="409" cy="1922" r="13" fill="#8a8272"/>
<circle cx="408" cy="1924" r="6" fill="#151414"/>
<rect x="415" y="1928" width="45" height="18" fill="#5a5244"/>
<path d="M535,1878 L596,1868 L596,2000 L528,2000 Z" fill="#1e2024"/>
<path d="M560,1868 L596,1866 L596,1885 L565,1885 Z" fill="#b8b8b8"/>
<path d="M552,1905 L596,1895 L596,1912 L552,1920 Z" fill="#38383c"/>
<path d="M478,1908 L540,1904 L540,1958 L478,1958 Z" fill="url(#gCollar)"/>
<ellipse cx="509" cy="1908" rx="31" ry="10" fill="#b8b09a"/>
<rect x="496" y="1886" width="40" height="32" fill="url(#gCollar)"/>
<ellipse cx="516" cy="1886" rx="20" ry="9" fill="#c0b89e"/>
<ellipse cx="516" cy="1886" rx="12" ry="6" fill="#5a4630"/>
<rect x="355" y="1962" width="125" height="112" fill="url(#gBase)"/>
<rect x="528" y="1990" width="70" height="85" fill="#3a342e"/>
<path d="M528,2007 L596,2030 L596,2046 L530,2021 Z" fill="#d6ce9e"/>
<path d="M540,1990 L596,1996 L596,2028 L540,2010 Z" fill="#4a4a4a"/>
<rect x="378" y="2004" width="20" height="70" fill="#a29478" opacity="0.7"/>
<rect x="388" y="2004" width="4" height="70" fill="#c4bcaa" opacity="0.6"/>
<rect x="360" y="1990" width="10" height="85" fill="#6e6250" opacity="0.6"/>
<rect x="445" y="1990" width="33" height="85" fill="#7a6c56" opacity="0.5"/>
<rect x="478" y="1955" width="53" height="120" fill="url(#gRodBig)"/>
<rect x="418" y="1966" width="25" height="96" fill="url(#gRodMid)"/>
<rect x="376" y="1938" width="22" height="66" fill="url(#gRodL)"/>
<path d="M375,2000 A12,6 0 0 0 399,2000" fill="none" stroke="#1e1a16" stroke-width="2.6"/>
<path d="M416,2054 A13.5,6 0 0 0 443,2054" fill="none" stroke="#1e1a16" stroke-width="2.6"/>
<ellipse cx="456" cy="2023" rx="9" ry="6" fill="#121212"/>
<circle cx="371" cy="2019" r="2.5" fill="#222"/>
<rect x="398" y="1957" width="22" height="11" fill="#f2f2e4"/>
<rect x="444" y="1976" width="12" height="10" fill="#ecebd4"/>
<path d="M362,1995 L378,1980" stroke="#3a342c" stroke-width="2"/>
</g></g>
<text transform="translate(362,1625.7) scale(1,1.04)" font-size="39" font-weight="bold">f</text>
<clipPath id="cg"><rect x="650.1" y="1621.8" width="298.9" height="449.5"/></clipPath>
<rect x="670.1" y="1641.8" width="258.9" height="429.5" fill="none" stroke="#000" stroke-width="2"/>
<line x1="670.1" y1="2071.3" x2="670.1" y2="2061.3" stroke="#000" stroke-width="2" />
<line x1="670.1" y1="1641.8" x2="670.1" y2="1651.8" stroke="#000" stroke-width="2" />
<line x1="721.9" y1="2071.3" x2="721.9" y2="2061.3" stroke="#000" stroke-width="2" />
<line x1="721.9" y1="1641.8" x2="721.9" y2="1651.8" stroke="#000" stroke-width="2" />
<line x1="773.6" y1="2071.3" x2="773.6" y2="2061.3" stroke="#000" stroke-width="2" />
<line x1="773.6" y1="1641.8" x2="773.6" y2="1651.8" stroke="#000" stroke-width="2" />
<line x1="825.4" y1="2071.3" x2="825.4" y2="2061.3" stroke="#000" stroke-width="2" />
<line x1="825.4" y1="1641.8" x2="825.4" y2="1651.8" stroke="#000" stroke-width="2" />
<line x1="877.1" y1="2071.3" x2="877.1" y2="2061.3" stroke="#000" stroke-width="2" />
<line x1="877.1" y1="1641.8" x2="877.1" y2="1651.8" stroke="#000" stroke-width="2" />
<line x1="928.9" y1="2071.3" x2="928.9" y2="2061.3" stroke="#000" stroke-width="2" />
<line x1="928.9" y1="1641.8" x2="928.9" y2="1651.8" stroke="#000" stroke-width="2" />
<line x1="670.1" y1="2071.3" x2="670.1" y2="2066.3" stroke="#000" stroke-width="2" />
<line x1="670.1" y1="1641.8" x2="670.1" y2="1646.8" stroke="#000" stroke-width="2" />
<line x1="683" y1="2071.3" x2="683" y2="2066.3" stroke="#000" stroke-width="2" />
<line x1="683" y1="1641.8" x2="683" y2="1646.8" stroke="#000" stroke-width="2" />
<line x1="696" y1="2071.3" x2="696" y2="2066.3" stroke="#000" stroke-width="2" />
<line x1="696" y1="1641.8" x2="696" y2="1646.8" stroke="#000" stroke-width="2" />
<line x1="708.9" y1="2071.3" x2="708.9" y2="2066.3" stroke="#000" stroke-width="2" />
<line x1="708.9" y1="1641.8" x2="708.9" y2="1646.8" stroke="#000" stroke-width="2" />
<line x1="721.9" y1="2071.3" x2="721.9" y2="2066.3" stroke="#000" stroke-width="2" />
<line x1="721.9" y1="1641.8" x2="721.9" y2="1646.8" stroke="#000" stroke-width="2" />
<line x1="734.8" y1="2071.3" x2="734.8" y2="2066.3" stroke="#000" stroke-width="2" />
<line x1="734.8" y1="1641.8" x2="734.8" y2="1646.8" stroke="#000" stroke-width="2" />
<line x1="747.7" y1="2071.3" x2="747.7" y2="2066.3" stroke="#000" stroke-width="2" />
<line x1="747.7" y1="1641.8" x2="747.7" y2="1646.8" stroke="#000" stroke-width="2" />
<line x1="760.7" y1="2071.3" x2="760.7" y2="2066.3" stroke="#000" stroke-width="2" />
<line x1="760.7" y1="1641.8" x2="760.7" y2="1646.8" stroke="#000" stroke-width="2" />
<line x1="773.6" y1="2071.3" x2="773.6" y2="2066.3" stroke="#000" stroke-width="2" />
<line x1="773.6" y1="1641.8" x2="773.6" y2="1646.8" stroke="#000" stroke-width="2" />
<line x1="786.6" y1="2071.3" x2="786.6" y2="2066.3" stroke="#000" stroke-width="2" />
<line x1="786.6" y1="1641.8" x2="786.6" y2="1646.8" stroke="#000" stroke-width="2" />
<line x1="799.5" y1="2071.3" x2="799.5" y2="2066.3" stroke="#000" stroke-width="2" />
<line x1="799.5" y1="1641.8" x2="799.5" y2="1646.8" stroke="#000" stroke-width="2" />
<line x1="812.4" y1="2071.3" x2="812.4" y2="2066.3" stroke="#000" stroke-width="2" />
<line x1="812.4" y1="1641.8" x2="812.4" y2="1646.8" stroke="#000" stroke-width="2" />
<line x1="825.4" y1="2071.3" x2="825.4" y2="2066.3" stroke="#000" stroke-width="2" />
<line x1="825.4" y1="1641.8" x2="825.4" y2="1646.8" stroke="#000" stroke-width="2" />
<line x1="838.3" y1="2071.3" x2="838.3" y2="2066.3" stroke="#000" stroke-width="2" />
<line x1="838.3" y1="1641.8" x2="838.3" y2="1646.8" stroke="#000" stroke-width="2" />
<line x1="851.3" y1="2071.3" x2="851.3" y2="2066.3" stroke="#000" stroke-width="2" />
<line x1="851.3" y1="1641.8" x2="851.3" y2="1646.8" stroke="#000" stroke-width="2" />
<line x1="864.2" y1="2071.3" x2="864.2" y2="2066.3" stroke="#000" stroke-width="2" />
<line x1="864.2" y1="1641.8" x2="864.2" y2="1646.8" stroke="#000" stroke-width="2" />
<line x1="877.1" y1="2071.3" x2="877.1" y2="2066.3" stroke="#000" stroke-width="2" />
<line x1="877.1" y1="1641.8" x2="877.1" y2="1646.8" stroke="#000" stroke-width="2" />
<line x1="890.1" y1="2071.3" x2="890.1" y2="2066.3" stroke="#000" stroke-width="2" />
<line x1="890.1" y1="1641.8" x2="890.1" y2="1646.8" stroke="#000" stroke-width="2" />
<line x1="903" y1="2071.3" x2="903" y2="2066.3" stroke="#000" stroke-width="2" />
<line x1="903" y1="1641.8" x2="903" y2="1646.8" stroke="#000" stroke-width="2" />
<line x1="916" y1="2071.3" x2="916" y2="2066.3" stroke="#000" stroke-width="2" />
<line x1="916" y1="1641.8" x2="916" y2="1646.8" stroke="#000" stroke-width="2" />
<line x1="928.9" y1="2071.3" x2="928.9" y2="2066.3" stroke="#000" stroke-width="2" />
<line x1="928.9" y1="1641.8" x2="928.9" y2="1646.8" stroke="#000" stroke-width="2" />
<line x1="670.1" y1="2071.3" x2="680.1" y2="2071.3" stroke="#000" stroke-width="2" />
<line x1="929" y1="2071.3" x2="919" y2="2071.3" stroke="#000" stroke-width="2" />
<line x1="670.1" y1="1948.4" x2="680.1" y2="1948.4" stroke="#000" stroke-width="2" />
<line x1="929" y1="1948.4" x2="919" y2="1948.4" stroke="#000" stroke-width="2" />
<line x1="670.1" y1="1825.4" x2="680.1" y2="1825.4" stroke="#000" stroke-width="2" />
<line x1="929" y1="1825.4" x2="919" y2="1825.4" stroke="#000" stroke-width="2" />
<line x1="670.1" y1="1702.5" x2="680.1" y2="1702.5" stroke="#000" stroke-width="2" />
<line x1="929" y1="1702.5" x2="919" y2="1702.5" stroke="#000" stroke-width="2" />
<line x1="670.1" y1="2071.3" x2="675.1" y2="2071.3" stroke="#000" stroke-width="2" />
<line x1="929" y1="2071.3" x2="924" y2="2071.3" stroke="#000" stroke-width="2" />
<line x1="670.1" y1="2040.6" x2="675.1" y2="2040.6" stroke="#000" stroke-width="2" />
<line x1="929" y1="2040.6" x2="924" y2="2040.6" stroke="#000" stroke-width="2" />
<line x1="670.1" y1="2009.8" x2="675.1" y2="2009.8" stroke="#000" stroke-width="2" />
<line x1="929" y1="2009.8" x2="924" y2="2009.8" stroke="#000" stroke-width="2" />
<line x1="670.1" y1="1979.1" x2="675.1" y2="1979.1" stroke="#000" stroke-width="2" />
<line x1="929" y1="1979.1" x2="924" y2="1979.1" stroke="#000" stroke-width="2" />
<line x1="670.1" y1="1948.4" x2="675.1" y2="1948.4" stroke="#000" stroke-width="2" />
<line x1="929" y1="1948.4" x2="924" y2="1948.4" stroke="#000" stroke-width="2" />
<line x1="670.1" y1="1917.6" x2="675.1" y2="1917.6" stroke="#000" stroke-width="2" />
<line x1="929" y1="1917.6" x2="924" y2="1917.6" stroke="#000" stroke-width="2" />
<line x1="670.1" y1="1886.9" x2="675.1" y2="1886.9" stroke="#000" stroke-width="2" />
<line x1="929" y1="1886.9" x2="924" y2="1886.9" stroke="#000" stroke-width="2" />
<line x1="670.1" y1="1856.2" x2="675.1" y2="1856.2" stroke="#000" stroke-width="2" />
<line x1="929" y1="1856.2" x2="924" y2="1856.2" stroke="#000" stroke-width="2" />
<line x1="670.1" y1="1825.4" x2="675.1" y2="1825.4" stroke="#000" stroke-width="2" />
<line x1="929" y1="1825.4" x2="924" y2="1825.4" stroke="#000" stroke-width="2" />
<line x1="670.1" y1="1794.7" x2="675.1" y2="1794.7" stroke="#000" stroke-width="2" />
<line x1="929" y1="1794.7" x2="924" y2="1794.7" stroke="#000" stroke-width="2" />
<line x1="670.1" y1="1764" x2="675.1" y2="1764" stroke="#000" stroke-width="2" />
<line x1="929" y1="1764" x2="924" y2="1764" stroke="#000" stroke-width="2" />
<line x1="670.1" y1="1733.2" x2="675.1" y2="1733.2" stroke="#000" stroke-width="2" />
<line x1="929" y1="1733.2" x2="924" y2="1733.2" stroke="#000" stroke-width="2" />
<line x1="670.1" y1="1702.5" x2="675.1" y2="1702.5" stroke="#000" stroke-width="2" />
<line x1="929" y1="1702.5" x2="924" y2="1702.5" stroke="#000" stroke-width="2" />
<line x1="670.1" y1="1671.7" x2="675.1" y2="1671.7" stroke="#000" stroke-width="2" />
<line x1="929" y1="1671.7" x2="924" y2="1671.7" stroke="#000" stroke-width="2" />
<line x1="670.1" y1="1641" x2="675.1" y2="1641" stroke="#000" stroke-width="2" />
<line x1="929" y1="1641" x2="924" y2="1641" stroke="#000" stroke-width="2" />
<rect x="675.0" y="2021.7" width="13.6" height="13.6" fill="rgba(200,200,200,0.6)" stroke="rgba(190,190,190,0.8)" stroke-width="2"/>
<rect x="688.3" y="1998.8" width="13.6" height="13.6" fill="rgba(200,200,200,0.6)" stroke="rgba(190,190,190,0.8)" stroke-width="2"/>
<rect x="701.9" y="1990.4" width="13.6" height="13.6" fill="rgba(200,200,200,0.6)" stroke="rgba(190,190,190,0.8)" stroke-width="2"/>
<rect x="714.8" y="1974.9" width="13.6" height="13.6" fill="rgba(200,200,200,0.6)" stroke="rgba(190,190,190,0.8)" stroke-width="2"/>
<rect x="727.7" y="1962.7" width="13.6" height="13.6" fill="rgba(200,200,200,0.6)" stroke="rgba(190,190,190,0.8)" stroke-width="2"/>
<rect x="740.6" y="1951.7" width="13.6" height="13.6" fill="rgba(200,200,200,0.6)" stroke="rgba(190,190,190,0.8)" stroke-width="2"/>
<rect x="753.5" y="1936.9" width="13.6" height="13.6" fill="rgba(200,200,200,0.6)" stroke="rgba(190,190,190,0.8)" stroke-width="2"/>
<rect x="766.4" y="1924.0" width="13.6" height="13.6" fill="rgba(200,200,200,0.6)" stroke="rgba(190,190,190,0.8)" stroke-width="2"/>
<rect x="779.3" y="1909.3" width="13.6" height="13.6" fill="rgba(200,200,200,0.6)" stroke="rgba(190,190,190,0.8)" stroke-width="2"/>
<rect x="792.2" y="1887.2" width="13.6" height="13.6" fill="rgba(200,200,200,0.6)" stroke="rgba(190,190,190,0.8)" stroke-width="2"/>
<rect x="818.7" y="1900.8" width="13.6" height="13.6" fill="rgba(200,200,200,0.6)" stroke="rgba(190,190,190,0.8)" stroke-width="2"/>
<rect x="844.5" y="1848.5" width="13.6" height="13.6" fill="rgba(200,200,200,0.6)" stroke="rgba(190,190,190,0.8)" stroke-width="2"/>
<rect x="870.3" y="1857.7" width="13.6" height="13.6" fill="rgba(200,200,200,0.6)" stroke="rgba(190,190,190,0.8)" stroke-width="2"/>
<rect x="896.1" y="1841.1" width="13.6" height="13.6" fill="rgba(200,200,200,0.6)" stroke="rgba(190,190,190,0.8)" stroke-width="2"/>
<rect x="922.2" y="1824.5" width="13.6" height="13.6" fill="rgba(200,200,200,0.6)" stroke="rgba(190,190,190,0.8)" stroke-width="2"/>
<path d="M673.5,2038.5 L684.0,2049.0 L673.5,2059.5 L663.0,2049.0 Z" fill="rgba(120,130,235,0.5)" stroke="rgba(120,130,235,0.6)" stroke-width="2"/>
<path d="M681.8,2033.4 L692.3,2043.9 L681.8,2054.4 L671.3,2043.9 Z" fill="rgba(120,130,235,0.5)" stroke="rgba(120,130,235,0.6)" stroke-width="2"/>
<path d="M695.1,2005.1 L705.6,2015.6 L695.1,2026.1 L684.6,2015.6 Z" fill="rgba(120,130,235,0.5)" stroke="rgba(120,130,235,0.6)" stroke-width="2"/>
<path d="M708.7,1988.5 L719.2,1999.0 L708.7,2009.5 L698.2,1999.0 Z" fill="rgba(120,130,235,0.5)" stroke="rgba(120,130,235,0.6)" stroke-width="2"/>
<path d="M721.6,1933.2 L732.1,1943.7 L721.6,1954.2 L711.1,1943.7 Z" fill="rgba(120,130,235,0.5)" stroke="rgba(120,130,235,0.6)" stroke-width="2"/>
<path d="M734.5,1922.2 L745.0,1932.7 L734.5,1943.2 L724.0,1932.7 Z" fill="rgba(120,130,235,0.5)" stroke="rgba(120,130,235,0.6)" stroke-width="2"/>
<path d="M747.4,1908.5 L757.9,1919.0 L747.4,1929.5 L736.9,1919.0 Z" fill="rgba(120,130,235,0.5)" stroke="rgba(120,130,235,0.6)" stroke-width="2"/>
<path d="M760.3,1884.6 L770.8,1895.1 L760.3,1905.6 L749.8,1895.1 Z" fill="rgba(120,130,235,0.5)" stroke="rgba(120,130,235,0.6)" stroke-width="2"/>
<path d="M773.2,1874.3 L783.7,1884.8 L773.2,1895.3 L762.7,1884.8 Z" fill="rgba(120,130,235,0.5)" stroke="rgba(120,130,235,0.6)" stroke-width="2"/>
<path d="M786.1,1852.9 L796.6,1863.4 L786.1,1873.9 L775.6,1863.4 Z" fill="rgba(120,130,235,0.5)" stroke="rgba(120,130,235,0.6)" stroke-width="2"/>
<path d="M799.0,1833.7 L809.5,1844.2 L799.0,1854.7 L788.5,1844.2 Z" fill="rgba(120,130,235,0.5)" stroke="rgba(120,130,235,0.6)" stroke-width="2"/>
<path d="M825.5,1790.3 L836.0,1800.8 L825.5,1811.3 L815.0,1800.8 Z" fill="rgba(120,130,235,0.5)" stroke="rgba(120,130,235,0.6)" stroke-width="2"/>
<path d="M851.3,1752.7 L861.8,1763.2 L851.3,1773.7 L840.8,1763.2 Z" fill="rgba(120,130,235,0.5)" stroke="rgba(120,130,235,0.6)" stroke-width="2"/>
<path d="M877.1,1728.0 L887.6,1738.5 L877.1,1749.0 L866.6,1738.5 Z" fill="rgba(120,130,235,0.5)" stroke="rgba(120,130,235,0.6)" stroke-width="2"/>
<path d="M902.9,1679.7 L913.4,1690.2 L902.9,1700.7 L892.4,1690.2 Z" fill="rgba(120,130,235,0.5)" stroke="rgba(120,130,235,0.6)" stroke-width="2"/>
<path d="M929.0,1656.1 L939.5,1666.6 L929.0,1677.1 L918.5,1666.6 Z" fill="rgba(120,130,235,0.5)" stroke="rgba(120,130,235,0.6)" stroke-width="2"/>
<circle cx="672.6" cy="2049.9" r="7.9" fill="rgba(255,30,30,0.55)" stroke="rgba(230,30,40,0.75)" stroke-width="2"/>
<circle cx="677" cy="2046" r="7.9" fill="rgba(255,30,30,0.55)" stroke="rgba(230,30,40,0.75)" stroke-width="2"/>
<circle cx="683.2" cy="2040.7" r="7.9" fill="rgba(255,30,30,0.55)" stroke="rgba(230,30,40,0.75)" stroke-width="2"/>
<circle cx="691.2" cy="2038.1" r="7.9" fill="rgba(255,30,30,0.55)" stroke="rgba(230,30,40,0.75)" stroke-width="2"/>
<circle cx="695.8" cy="2029.7" r="7.9" fill="rgba(255,30,30,0.55)" stroke="rgba(230,30,40,0.75)" stroke-width="2"/>
<circle cx="708.8" cy="1990.5" r="7.9" fill="rgba(255,30,30,0.55)" stroke="rgba(230,30,40,0.75)" stroke-width="2"/>
<circle cx="722.7" cy="2000.6" r="7.9" fill="rgba(255,30,30,0.55)" stroke="rgba(230,30,40,0.75)" stroke-width="2"/>
<circle cx="734.8" cy="1972.8" r="7.9" fill="rgba(255,30,30,0.55)" stroke="rgba(230,30,40,0.75)" stroke-width="2"/>
<circle cx="748" cy="1950.4" r="7.9" fill="rgba(255,30,30,0.55)" stroke="rgba(230,30,40,0.75)" stroke-width="2"/>
<circle cx="760.7" cy="1944.6" r="7.9" fill="rgba(255,30,30,0.55)" stroke="rgba(230,30,40,0.75)" stroke-width="2"/>
<circle cx="773.5" cy="1950" r="7.9" fill="rgba(255,30,30,0.55)" stroke="rgba(230,30,40,0.75)" stroke-width="2"/>
<circle cx="786.5" cy="1937.4" r="7.9" fill="rgba(255,30,30,0.55)" stroke="rgba(230,30,40,0.75)" stroke-width="2"/>
<circle cx="799.4" cy="1899" r="7.9" fill="rgba(255,30,30,0.55)" stroke="rgba(230,30,40,0.75)" stroke-width="2"/>
<circle cx="825.6" cy="1860.7" r="7.9" fill="rgba(255,30,30,0.55)" stroke="rgba(230,30,40,0.75)" stroke-width="2"/>
<circle cx="851.6" cy="1870.2" r="7.9" fill="rgba(255,30,30,0.55)" stroke="rgba(230,30,40,0.75)" stroke-width="2"/>
<circle cx="877.2" cy="1807" r="7.9" fill="rgba(255,30,30,0.55)" stroke="rgba(230,30,40,0.75)" stroke-width="2"/>
<circle cx="903.1" cy="1832.7" r="7.9" fill="rgba(255,30,30,0.55)" stroke="rgba(230,30,40,0.75)" stroke-width="2"/>
<circle cx="928.8" cy="1812.7" r="7.9" fill="rgba(255,30,30,0.55)" stroke="rgba(230,30,40,0.75)" stroke-width="2"/>
<text transform="translate(670.1,2107.6) scale(1,1.04)" font-size="30" text-anchor="middle" font-weight="normal" fill="#000" >0</text>
<text transform="translate(721.9,2107.6) scale(1,1.04)" font-size="30" text-anchor="middle" font-weight="normal" fill="#000" >2</text>
<text transform="translate(773.6,2107.6) scale(1,1.04)" font-size="30" text-anchor="middle" font-weight="normal" fill="#000" >4</text>
<text transform="translate(825.4,2107.6) scale(1,1.04)" font-size="30" text-anchor="middle" font-weight="normal" fill="#000" >6</text>
<text transform="translate(877.1,2107.6) scale(1,1.04)" font-size="30" text-anchor="middle" font-weight="normal" fill="#000" >8</text>
<text transform="translate(928.9,2107.6) scale(1,1.04)" font-size="30" text-anchor="middle" font-weight="normal" fill="#000" >10</text>
<text transform="translate(661.6,2079.7) scale(1,1.04)" font-size="28" text-anchor="end" font-weight="normal" fill="#000" >0</text>
<text transform="translate(661.6,1956.8) scale(1,1.04)" font-size="28" text-anchor="end" font-weight="normal" fill="#000" >2</text>
<text transform="translate(661.6,1833.8) scale(1,1.04)" font-size="28" text-anchor="end" font-weight="normal" fill="#000" >4</text>
<text transform="translate(661.6,1710.9) scale(1,1.04)" font-size="28" text-anchor="end" font-weight="normal" fill="#000" >6</text>
<text transform="translate(699,2138.5) scale(1.025,1.04)" font-size="28"><tspan font-weight="bold">Frequency</tspan> (Hz)</text>
<text transform="translate(630.6,1988.9) rotate(-90) scale(1.025,1.04)" font-size="30.3"><tspan font-weight="bold">Peak voltage</tspan> (mV)</text>
<text transform="translate(729,1712.4) scale(1,1.04)" font-size="28" fill="#7c82e2">PA<tspan font-size="17" dy="9.52">carbon black</tspan></text>
<text transform="translate(813,1951.6) scale(1,1.04)" font-size="28" fill="#c4c4c4">PA<tspan font-size="17" dy="9.52">steel</tspan></text>
<text transform="translate(766.6,1995) scale(1,1.04)" font-size="28" fill="#e84a4a">PA<tspan font-size="17" dy="9.33">silver</tspan></text>
<text transform="translate(623.5,1625) scale(1,1.04)" font-size="38" text-anchor="start" font-weight="bold" fill="#000" >g</text>
</svg></body></html>
